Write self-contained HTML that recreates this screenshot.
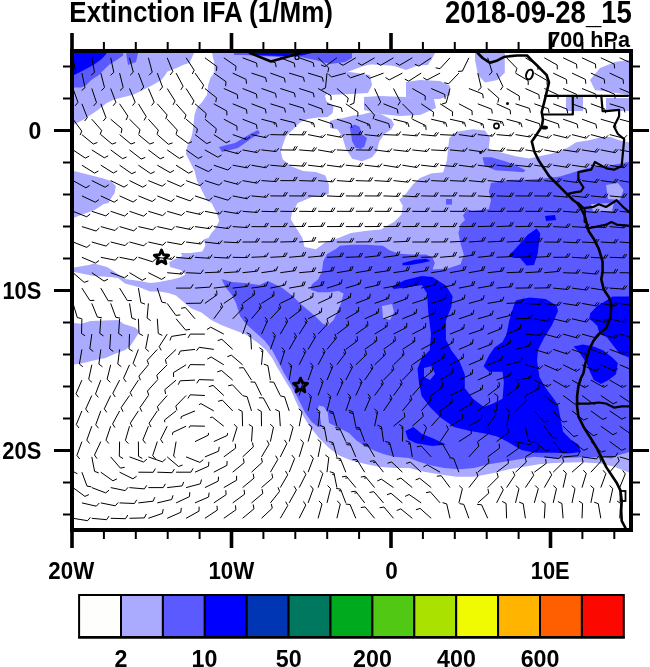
<!DOCTYPE html>
<html><head><meta charset="utf-8"><style>
html,body{margin:0;padding:0;background:#fff;}
svg{display:block;}
.b{font-family:"Liberation Sans",Arial,sans-serif;font-weight:bold;}
.r{font-family:"Liberation Sans",Arial,sans-serif;font-weight:bold;}
</style></head><body>
<svg width="650" height="667" viewBox="0 0 650 667">
<rect width="650" height="667" fill="#fff"/>
<defs><clipPath id="mc"><rect x="74" y="53" width="555" height="475"/></clipPath></defs>
<g clip-path="url(#mc)">
<rect x="74" y="53" width="555" height="475" fill="#aaaaff"/>
<polygon points="194.0,53.0 212.0,53.0 214.3,62.8 214.3,72.7 210.6,77.6 208.2,85.0 207.0,94.8 202.0,102.2 197.0,107.2 194.6,114.5 193.4,124.4 192.2,134.2 189.7,141.6 187.2,146.5 186.0,154.0 189.7,161.3 194.6,171.0 197.0,181.0 202.0,190.8 207.0,200.7 211.6,203.0 216.7,213.2 219.2,220.8 215.4,228.5 211.5,233.0 208.5,237.7 203.8,239.2 205.4,245.4 202.3,251.5 190.0,253.0 180.8,253.0 182.3,256.0 174.6,259.2 169.2,262.3 170.0,267.0 180.8,270.0 185.4,274.6 179.2,277.7 173.0,279.2 165.4,280.8 157.7,282.3 150.0,283.0 140.0,281.0 125.0,279.0 115.0,272.0 107.0,267.0 94.0,263.5 89.0,265.0 74.0,267.5 74.0,217.7 82.3,214.6 94.6,210.0 103.8,204.0 108.5,203.0 111.0,198.2 114.6,193.3 115.8,186.0 111.0,181.0 103.5,178.5 93.7,176.0 83.8,173.6 74.0,171.0 74.0,124.4 76.5,123.2 83.8,119.5 91.2,114.5 98.6,109.6 106.0,103.5 113.4,99.8 123.2,97.3 133.0,94.8 143.0,90.0 152.8,85.0 161.4,80.0 165.0,75.2 167.5,71.5 177.4,67.8 182.3,65.3 189.7,62.8" fill="#ffffff"/>
<polygon points="74.0,272.0 94.0,276.0 110.0,277.0 118.0,278.0 125.0,283.5 140.0,287.5 150.0,291.5 159.2,291.5 168.5,293.0 176.0,295.4 183.8,302.3 191.5,308.5 201.4,312.6 211.6,320.2 221.8,325.3 234.0,330.0 246.0,334.6 257.0,342.3 266.0,350.0 272.0,357.7 277.0,367.0 281.5,374.6 286.0,382.3 291.0,390.0 295.4,400.5 301.5,413.0 309.0,425.5 319.0,438.0 329.0,448.0 339.0,455.5 351.5,460.5 366.5,464.3 379.0,466.8 394.0,468.0 409.0,468.0 424.0,471.8 439.0,474.3 456.5,476.8 474.0,476.8 494.0,473.0 509.0,469.3 524.0,466.8 539.0,464.3 554.0,463.0 580.9,462.3 601.3,463.6 615.0,467.0 629.0,472.5 629.0,528.0 74.0,528.0 74.0,364.5 81.4,363.5 92.5,360.8 105.4,358.0 114.6,354.0 125.7,349.7 131.0,345.0 136.8,336.0 139.5,331.0 135.0,327.5 123.8,324.0 118.3,320.0 90.6,321.0 81.4,323.8 74.0,323.0" fill="#ffffff"/>
<polygon points="325.0,96.0 330.0,90.0 339.8,87.5 344.8,80.0 342.3,74.0 352.0,70.2 362.0,66.5 371.8,64.0 381.7,62.0 394.0,66.0 406.0,70.0 418.6,65.3 431.0,60.4 435.0,53.0 475.0,53.0 475.0,60.0 478.0,75.0 485.1,82.5 497.4,80.0 504.8,72.7 504.8,53.0 629.0,53.0 629.0,142.3 619.2,140.2 610.6,136.9 602.0,136.9 589.0,140.2 576.2,142.3 567.5,147.7 554.6,153.0 539.5,156.3 528.8,158.5 515.8,156.3 502.9,153.0 490.0,149.8 488.8,147.6 490.0,137.8 485.0,130.4 472.8,129.2 458.0,131.6 449.4,137.8 448.2,147.6 447.0,160.0 443.2,172.2 431.0,173.5 420.0,178.0 413.0,184.6 403.8,196.2 399.2,199.6 402.7,205.4 401.5,214.6 394.6,221.5 380.8,229.6 367.0,230.8 350.8,233.0 339.2,237.7 325.4,242.3 316.0,249.2 304.6,247.0 302.3,237.7 296.5,228.5 290.8,219.2 292.0,212.3 297.7,203.0 311.5,197.3 323.0,196.2 328.8,193.8 328.8,184.6 325.4,175.4 316.0,172.0 303.0,171.0 290.6,166.0 282.7,159.2 280.8,151.5 283.2,144.0 285.7,136.7 293.0,129.3 300.5,122.0 307.8,119.0 317.7,117.5 327.5,117.0 332.5,113.3 333.7,106.0 326.3,101.0" fill="#ffffff"/>
<polygon points="330.0,121.0 336.0,119.0 342.3,118.2 352.2,115.8 362.0,114.5 371.8,112.0 381.7,114.5 391.5,119.5 394.0,124.4 391.5,129.3 384.2,134.2 379.2,141.6 376.8,151.5 371.8,157.6 362.0,161.3 352.2,158.8 346.0,149.0 342.3,136.7 337.4,129.3 330.0,128.0" fill="#aaaaff"/>
<polygon points="352.0,53.0 430.0,53.0 432.0,58.0 428.0,65.0 400.0,66.0 380.0,65.0 365.0,64.0 352.0,62.0" fill="#aaaaff"/>
<polygon points="328.0,73.0 350.0,72.0 370.0,75.0 372.0,85.0 368.0,93.0 350.0,94.0 328.0,95.0" fill="#aaaaff"/>
<polygon points="406.0,82.0 420.0,80.0 440.0,81.0 450.0,86.0 450.0,95.0 440.0,99.0 420.0,99.0 406.0,97.0" fill="#aaaaff"/>
<polygon points="364.0,97.0 380.0,96.0 406.0,97.0 434.0,99.0 436.0,108.0 420.0,115.0 400.0,116.0 380.0,114.0 364.0,110.0" fill="#aaaaff"/>
<polygon points="590.0,80.0 600.0,68.0 615.0,62.0 629.0,60.0 629.0,95.0 610.0,92.0 595.0,90.0" fill="#aaaaff"/>
<polygon points="566.0,97.0 583.0,97.0 583.0,111.0 566.0,111.0" fill="#aaaaff"/>
<polygon points="606.0,98.0 629.0,98.0 629.0,111.0 606.0,111.0" fill="#aaaaff"/>
<polygon points="74.0,53.0 123.2,53.0 123.2,55.5 115.8,60.4 108.5,65.3 103.5,70.2 98.6,75.2 91.2,80.0 86.3,85.0 81.4,87.5 74.0,87.5" fill="#5a5aff"/>
<polygon points="126.0,53.0 138.0,53.0 136.0,62.0 128.0,65.0" fill="#5a5aff"/>
<polygon points="234.0,53.0 352.0,53.0 352.0,58.0 345.0,62.0 330.0,64.0 315.0,60.0 300.0,57.0 280.0,57.0 260.0,56.0 245.0,55.0 234.0,55.0" fill="#5a5aff"/>
<polygon points="482.5,157.2 491.0,157.2 506.0,161.5 517.0,165.8 525.5,170.2 523.4,172.3 510.5,171.2 495.4,170.2 484.6,165.8" fill="#5a5aff"/>
<polygon points="446.0,199.0 452.0,199.0 452.0,204.6 446.0,204.6" fill="#5a5aff"/>
<polygon points="219.0,147.0 235.0,143.0 250.0,134.0 258.0,130.0 260.0,133.0 252.0,138.0 238.0,148.0 222.0,152.0" fill="#5a5aff"/>
<polygon points="349.7,126.8 354.6,124.4 359.5,126.8 362.0,134.2 367.0,138.0 364.5,146.5 360.8,149.0 355.8,147.8 352.2,141.6 351.0,134.2" fill="#5a5aff"/>
<polygon points="221.5,279.0 232.0,282.0 247.0,283.3 259.5,285.0 268.0,281.0 272.2,283.0 282.4,288.0 292.6,296.0 300.2,303.6 307.9,310.0 315.5,316.4 323.2,324.0 328.3,325.3 333.4,320.2 337.2,312.6 341.0,303.6 343.6,293.4 338.5,290.9 328.3,292.2 318.0,292.2 310.4,289.6 311.7,284.5 318.0,279.4 321.9,271.8 323.2,261.6 327.0,254.0 335.9,248.9 340.0,245.8 352.9,244.8 365.8,244.8 383.0,245.8 389.5,250.2 398.2,253.4 411.0,254.5 426.2,254.5 432.6,257.7 434.8,263.0 432.6,269.5 447.7,268.5 460.6,264.2 463.8,254.5 460.6,243.7 458.5,233.0 460.6,224.3 465.0,220.0 463.0,215.4 467.4,209.0 471.7,211.0 488.9,209.0 491.0,200.3 488.9,191.7 491.0,183.0 510.5,179.8 527.7,179.8 540.6,178.8 560.0,176.6 576.2,171.4 587.0,168.2 597.7,166.0 608.5,166.0 619.2,163.8 629.0,161.7 629.0,454.7 620.4,454.7 616.6,456.0 611.5,458.5 601.3,457.2 580.9,457.2 555.5,458.5 534.0,456.8 519.0,459.3 504.0,461.8 489.0,464.3 474.0,468.0 459.0,469.3 444.0,468.0 431.5,465.5 419.0,461.8 409.0,458.0 394.0,456.8 384.0,454.3 374.0,450.5 364.0,445.5 356.5,440.5 349.0,433.0 339.0,428.0 329.0,423.0 327.8,413.0 324.0,406.8 319.0,405.5 317.8,409.3 320.3,418.0 321.5,426.8 317.8,426.8 311.5,421.8 305.3,413.0 299.0,400.5 291.5,385.5 284.0,373.0 279.0,363.0 272.0,350.0 264.0,340.0 255.0,332.0 246.0,324.0 240.0,316.0 236.0,303.0 231.5,294.6 225.4,287.0" fill="#5a5aff"/>
<polygon points="606.0,185.0 618.0,183.0 623.5,190.0 620.0,200.0 608.0,199.0" fill="#aaaaff"/>
<polygon points="382.0,306.0 392.0,304.0 394.0,312.0 390.0,320.0 383.0,318.0" fill="#aaaaff"/>
<polygon points="591.0,204.0 614.0,203.0 612.0,211.0 593.0,211.0" fill="#aaaaff"/>
<polygon points="616.0,456.0 629.0,452.0 629.0,472.0 618.0,468.0" fill="#aaaaff"/>
<polygon points="74.0,53.0 107.0,53.0 101.7,59.0 93.4,65.0 85.0,69.6 76.8,73.8 74.0,75.0" fill="#0000ff"/>
<polygon points="250.0,53.0 312.0,53.0 302.0,55.5 285.0,56.0 265.0,55.5 255.0,55.0" fill="#0000ff"/>
<polygon points="508.6,256.0 518.8,245.0 527.8,234.8 536.7,228.5 540.2,233.6 537.6,254.0 534.0,265.0 526.5,265.4 520.0,258.0 513.7,258.0" fill="#0000ff"/>
<polygon points="402.5,263.0 415.4,259.8 426.2,258.8 430.5,261.0 421.8,263.0 409.0,265.2 402.5,265.2" fill="#0000ff"/>
<polygon points="391.7,286.8 404.6,280.3 421.8,276.0 432.4,277.0 445.9,285.4 452.6,296.2 451.3,307.0 445.9,320.5 445.9,339.4 451.3,350.2 459.4,361.0 464.8,374.4 464.8,388.0 472.9,398.7 483.6,406.8 492.0,404.0 502.5,398.7 503.9,382.5 502.5,371.7 489.0,371.7 483.6,366.3 489.0,355.6 494.4,347.5 502.5,342.0 506.6,334.0 509.3,320.5 513.3,307.0 516.0,300.2 529.5,297.5 545.7,298.9 556.5,305.6 558.0,311.0 552.0,325.0 544.0,338.0 538.0,350.0 537.0,361.0 539.5,377.0 545.7,388.0 553.8,398.7 558.0,405.0 560.6,419.0 563.1,431.8 570.7,439.4 578.4,444.5 580.9,452.1 568.2,453.4 555.5,452.7 535.0,452.7 521.4,450.0 508.0,442.0 497.1,436.5 486.3,433.8 470.2,431.1 454.0,427.0 440.5,417.6 429.7,406.8 421.6,396.0 418.9,382.5 417.5,369.0 421.6,358.3 429.7,350.2 431.0,334.0 428.3,312.4 427.0,293.5 421.8,285.0 409.0,287.0 393.8,289.0" fill="#0000ff"/>
<polygon points="590.2,313.2 597.5,305.8 606.8,300.3 612.3,296.6 629.0,296.6 629.0,357.5 619.7,353.8 606.8,337.2 599.4,333.5 597.5,326.2 593.8,322.5 589.2,318.8" fill="#0000ff"/>
<polygon points="573.5,346.5 582.8,344.6 593.8,346.5 603.0,350.2 612.3,357.5 617.8,363.0 616.0,374.2 608.6,380.0 601.0,384.0 593.8,380.0 590.2,372.3 586.5,363.0 579.0,352.0" fill="#0000ff"/>
<polygon points="545.0,216.0 555.0,215.0 556.0,220.0 546.0,221.0" fill="#0000ff"/>
<polygon points="405.4,431.1 413.5,427.0 421.6,433.8 435.0,439.2 445.9,444.6 432.4,446.0 416.2,443.2 408.1,439.2" fill="#0000ff"/>
<polygon points="424.0,368.0 432.0,366.0 435.0,374.0 430.0,380.0 424.0,377.0" fill="#5a5aff"/>
<path d="M73.0,57.8L75.7,72.3M75.7,72.3l-3.3,2.9M91.8,57.8L94.5,72.4M94.5,72.4l-3.4,2.8M110.7,57.8L113.8,72.3M113.8,72.3l-3.3,3.0M129.5,57.8L133.3,72.1M133.3,72.1l-3.1,3.1M148.4,57.8L152.2,72.1M152.2,72.1l-3.1,3.1M167.2,57.8L172.8,71.5M172.8,71.5l-2.7,3.5M186.1,57.8L194.2,70.2M194.2,70.2l-2.0,3.9M204.9,57.8L216.9,66.5M216.9,66.5l-0.5,4.4M223.8,57.8L236.0,66.2M236.0,66.2l-0.4,4.4M242.6,57.8L256.5,63.0M256.5,63.0l0.7,4.3M261.5,57.8L275.4,62.8M275.4,62.8l0.8,4.3M280.3,57.8L294.2,63.1M294.2,63.1l0.7,4.3M299.2,57.8L313.2,62.7M313.2,62.7l0.8,4.3M318.1,57.8L328.8,68.0M328.8,68.0l-1.0,4.3M336.9,57.8L325.0,66.6M325.0,66.6l-4.0,-1.7M355.8,57.8L343.0,65.3M343.0,65.3l-3.8,-2.2M374.6,57.8L361.8,65.2M361.8,65.2l-3.8,-2.2M393.5,57.8L380.7,65.3M380.7,65.3l-3.8,-2.2M412.3,57.8L399.6,65.3M399.6,65.3l-3.8,-2.2M431.2,57.8L418.9,66.1M418.9,66.1l-4.0,-1.9M450.0,57.8L440.0,68.7M440.0,68.7l-4.3,-0.9M468.9,57.8L462.4,71.1M462.4,71.1l-4.4,0.3M487.7,57.8L492.1,71.9M492.1,71.9l-3.0,3.2M506.6,57.8L516.9,68.3M516.9,68.3l-1.2,4.2M525.4,57.8L538.0,65.5M538.0,65.5l-0.1,4.4M544.3,57.8L557.2,65.0M557.2,65.0l0.1,4.4M563.1,57.8L576.5,64.1M576.5,64.1l0.4,4.4M582.0,57.8L595.4,64.0M595.4,64.0l0.4,4.4M600.8,57.8L614.2,64.0M614.2,64.0l0.4,4.4M619.7,57.8L633.1,64.0M633.1,64.0l0.4,4.4M81.9,73.1L85.0,87.6M85.0,87.6l-3.3,2.9M100.8,73.1L104.5,87.5M104.5,87.5l-3.1,3.1M119.6,73.1L123.2,87.5M123.2,87.5l-3.2,3.1M138.4,73.1L143.7,87.0M143.7,87.0l-2.8,3.4M157.3,73.1L162.5,87.0M162.5,87.0l-2.8,3.4M176.1,73.1L183.1,86.2M183.1,86.2l-2.3,3.7M195.0,73.1L203.6,85.2M203.6,85.2l-1.8,4.0M213.8,73.1L226.0,81.7M226.0,81.7l-0.4,4.4M232.7,73.1L246.1,79.4M246.1,79.4l0.4,4.4M251.5,73.1L265.6,77.7M265.6,77.7l0.9,4.3M270.4,73.1L284.4,78.1M284.4,78.1l0.8,4.3M289.2,73.1L303.4,77.4M303.4,77.4l1.0,4.3M308.1,73.1L322.3,77.4M322.3,77.4l1.0,4.3M327.0,73.1L325.5,87.9M325.5,87.9l-4.0,1.8M345.8,73.1L331.5,77.0M331.5,77.0l-3.1,-3.1M364.7,73.1L350.6,77.8M350.6,77.8l-3.3,-2.9M383.5,73.1L369.6,78.3M369.6,78.3l-3.4,-2.8M402.4,73.1L389.2,79.9M389.2,79.9l-3.7,-2.4M421.2,73.1L408.7,81.1M408.7,81.1l-3.9,-2.0M440.1,73.1L427.0,80.0M427.0,80.0l-3.7,-2.3M458.9,73.1L448.6,83.8M448.6,83.8l-4.3,-1.1M477.8,73.1L481.2,87.5M481.2,87.5l-3.2,3.0M496.6,73.1L502.9,86.5M502.9,86.5l-2.5,3.6M515.5,73.1L528.2,80.6M528.2,80.6l-0.0,4.4M534.3,73.1L547.1,80.5M547.1,80.5l0.0,4.4M553.2,73.1L566.5,79.5M566.5,79.5l0.3,4.4M572.0,73.1L585.4,79.4M585.4,79.4l0.4,4.4M590.9,73.1L604.3,79.2M604.3,79.2l0.4,4.4M609.7,73.1L623.1,79.4M623.1,79.4l0.4,4.4M73.0,88.5L78.0,102.4M78.0,102.4l-2.9,3.4M91.8,88.5L96.5,102.6M96.5,102.6l-2.9,3.3M110.7,88.5L115.9,102.4M115.9,102.4l-2.8,3.4M129.5,88.5L135.2,102.2M135.2,102.2l-2.7,3.5M148.4,88.5L154.2,102.1M154.2,102.1l-2.6,3.5M167.2,88.5L175.1,101.0M175.1,101.0l-2.1,3.9M186.1,88.5L194.0,101.0M194.0,101.0l-2.0,3.9M204.9,88.5L216.5,97.8M216.5,97.8l-0.7,4.3M223.8,88.5L237.3,94.5M237.3,94.5l0.5,4.4M242.6,88.5L256.4,94.0M256.4,94.0l0.6,4.4M261.5,88.5L275.5,93.4M275.5,93.4l0.8,4.3M280.3,88.5L294.4,93.0M294.4,93.0l0.9,4.3M299.2,88.5L313.3,93.0M313.3,93.0l0.9,4.3M318.1,88.5L331.0,95.7M331.0,95.7l0.1,4.4M336.9,88.5L348.2,98.1M348.2,98.1l-0.8,4.3M355.8,88.5L353.9,103.2M353.9,103.2l-4.1,1.7M374.6,88.5L380.7,102.0M380.7,102.0l-2.6,3.6M393.5,88.5L400.3,101.6M400.3,101.6l-2.4,3.7M412.3,88.5L425.2,95.8M425.2,95.8l0.0,4.4M431.2,88.5L444.7,94.4M444.7,94.4l0.5,4.4M450.0,88.5L446.2,102.8M446.2,102.8l-4.2,1.2M468.9,88.5L482.6,93.9M482.6,93.9l0.7,4.3M487.7,88.5L498.8,98.3M498.8,98.3l-0.9,4.3M506.6,88.5L519.3,96.0M519.3,96.0l-0.0,4.4M525.4,88.5L538.9,94.6M538.9,94.6l0.4,4.4M544.3,88.5L557.7,94.7M557.7,94.7l0.4,4.4M563.1,88.5L576.7,94.4M576.7,94.4l0.5,4.4M582.0,88.5L595.7,94.1M595.7,94.1l0.6,4.4M600.8,88.5L614.5,94.1M614.5,94.1l0.6,4.4M619.7,88.5L633.3,94.3M633.3,94.3l0.5,4.4M81.9,103.8L87.3,117.6M87.3,117.6l-2.7,3.4M100.8,103.8L106.0,117.7M106.0,117.7l-2.8,3.4M119.6,103.8L127.9,116.1M127.9,116.1l-1.9,4.0M138.4,103.8L146.2,116.5M146.2,116.5l-2.1,3.9M157.3,103.8L167.1,114.9M167.1,114.9l-1.4,4.2M176.1,103.8L186.0,114.9M186.0,114.9l-1.4,4.2M195.0,103.8L206.2,113.5M206.2,113.5l-0.8,4.3M213.8,103.8L226.8,111.0M226.8,111.0l0.1,4.4M232.7,103.8L246.4,109.4M246.4,109.4l0.6,4.4M251.5,103.8L265.4,109.1M265.4,109.1l0.7,4.3M270.4,103.8L284.5,108.2M284.5,108.2l1.0,4.3M289.2,103.8L303.4,108.2M303.4,108.2l1.0,4.3M308.1,103.8L322.0,109.0M322.0,109.0l0.7,4.3M327.0,103.8L341.2,107.7M341.2,107.7l1.1,4.3M345.8,103.8L358.0,112.2M358.0,112.2l-0.3,4.4M364.7,103.8L374.4,115.0M374.4,115.0l-1.4,4.2M383.5,103.8L397.3,109.2M397.3,109.2l0.7,4.3M402.4,103.8L412.9,114.3M412.9,114.3l-1.1,4.3M421.2,103.8L433.5,112.1M433.5,112.1l-0.3,4.4M440.1,103.8L452.6,111.7M452.6,111.7l-0.2,4.4M458.9,103.8L472.0,110.7M472.0,110.7l0.2,4.4M477.8,103.8L491.6,109.2M491.6,109.2l0.7,4.3M496.6,103.8L510.1,109.9M510.1,109.9l0.5,4.4M515.5,103.8L529.5,108.4M529.5,108.4l0.9,4.3M534.3,103.8L548.3,108.7M548.3,108.7l0.8,4.3M553.2,103.8L567.0,109.1M567.0,109.1l0.7,4.3M572.0,103.8L585.9,108.9M585.9,108.9l0.8,4.3M590.9,103.8L604.8,108.9M604.8,108.9l0.8,4.3M609.7,103.8L623.9,108.1M623.9,108.1l1.0,4.3M73.0,119.2L81.8,131.1M81.8,131.1l-1.7,4.0M91.8,119.2L101.6,130.4M101.6,130.4l-1.4,4.2M110.7,119.2L122.0,128.8M122.0,128.8l-0.8,4.3M129.5,119.2L140.0,129.6M140.0,129.6l-1.1,4.3M148.4,119.2L158.3,130.2M158.3,130.2l-1.3,4.2M167.2,119.2L177.3,130.1M177.3,130.1l-1.3,4.2M186.1,119.2L197.4,128.8M197.4,128.8l-0.8,4.3M204.9,119.2L216.3,128.7M216.3,128.7l-0.8,4.3M223.8,119.2L236.9,126.1M236.9,126.1l0.2,4.4M242.6,119.2L256.4,124.6M256.4,124.6l0.7,4.4M261.5,119.2L275.8,122.9M275.8,122.9l1.2,4.2M273.9,122.4l0.6,2.2M280.3,119.2L294.7,122.8M294.7,122.8l1.2,4.2M299.2,119.2L313.5,123.0M313.5,123.0l1.1,4.2M311.6,122.5l0.6,2.2M318.1,119.2L332.1,123.8M332.1,123.8l0.9,4.3M336.9,119.2L351.0,123.7M351.0,123.7l0.9,4.3M355.8,119.2L369.6,124.5M369.6,124.5l0.7,4.3M367.7,123.8l0.4,2.3M374.6,119.2L388.7,123.6M388.7,123.6l1.0,4.3M393.5,119.2L407.8,122.8M407.8,122.8l1.2,4.2M405.9,122.3l0.6,2.2M412.3,119.2L425.7,125.5M425.7,125.5l0.4,4.4M423.9,124.6l0.2,2.3M431.2,119.2L445.6,122.5M445.6,122.5l1.3,4.2M443.6,122.1l0.7,2.2M450.0,119.2L464.4,122.4M464.4,122.4l1.3,4.2M462.5,122.0l0.7,2.2M468.9,119.2L482.9,124.0M482.9,124.0l0.9,4.3M481.0,123.3l0.4,2.3M487.7,119.2L502.3,121.8M502.3,121.8l1.5,4.1M500.3,121.5l0.8,2.2M506.6,119.2L520.9,123.0M520.9,123.0l1.2,4.2M518.9,122.5l0.6,2.2M525.4,119.2L539.5,123.7M539.5,123.7l0.9,4.3M544.3,119.2L558.3,123.9M558.3,123.9l0.9,4.3M563.1,119.2L577.1,124.0M577.1,124.0l0.8,4.3M582.0,119.2L595.9,124.2M595.9,124.2l0.8,4.3M600.8,119.2L615.0,123.3M615.0,123.3l1.1,4.3M619.7,119.2L633.9,123.0M633.9,123.0l1.1,4.3M81.9,134.6L93.3,144.0M93.3,144.0l4.1,-1.5M100.8,134.6L112.1,144.1M112.1,144.1l4.1,-1.5M119.6,134.6L131.0,144.0M131.0,144.0l4.1,-1.5M138.4,134.6L149.8,144.0M149.8,144.0l4.1,-1.5M157.3,134.6L168.4,144.3M168.4,144.3l4.2,-1.4M176.1,134.6L188.0,143.4M188.0,143.4l4.0,-1.7M195.0,134.6L206.7,143.6M206.7,143.6l4.1,-1.7M213.8,134.6L226.2,142.8M226.2,142.8l3.9,-2.0M232.7,134.6L246.6,139.5M246.6,139.5l3.4,-2.8M244.7,138.9l1.8,-1.5M251.5,134.6L266.0,137.7M266.0,137.7l3.0,-3.2M264.1,137.3l1.6,-1.7M270.4,134.6L285.2,134.9M285.2,134.9l2.3,-3.8M283.2,134.9l2.3,-3.8M289.2,134.6L304.0,134.9M304.0,134.9l2.3,-3.8M302.0,134.8l2.3,-3.8M308.1,134.6L322.6,137.5M322.6,137.5l2.9,-3.3M320.6,137.1l1.5,-1.7M327.0,134.6L341.5,137.4M341.5,137.4l2.9,-3.3M339.5,137.0l1.5,-1.7M345.8,134.6L360.6,134.7M360.6,134.7l2.2,-3.8M358.6,134.7l2.2,-3.8M364.7,134.6L379.4,136.2M379.4,136.2l2.6,-3.5M377.4,135.9l1.4,-1.9M383.5,134.6L398.3,135.2M398.3,135.2l2.4,-3.7M396.3,135.2l1.2,-1.9M402.4,134.6L417.1,135.9M417.1,135.9l2.5,-3.6M415.1,135.7l1.3,-1.9M421.2,134.6L435.9,136.0M435.9,136.0l2.6,-3.6M433.9,135.8l2.6,-3.6M440.1,134.6L454.8,135.3M454.8,135.3l2.4,-3.7M452.8,135.2l1.3,-1.9M458.9,134.6L473.5,136.7M473.5,136.7l2.7,-3.5M471.6,136.4l1.4,-1.8M477.8,134.6L492.5,136.2M492.5,136.2l2.6,-3.5M490.5,136.0l1.4,-1.9M496.6,134.6L511.3,135.9M511.3,135.9l2.5,-3.6M509.3,135.7l1.3,-1.9M515.5,134.6L530.0,137.0M530.0,137.0l2.8,-3.4M528.1,136.7l1.5,-1.8M534.3,134.6L548.6,138.2M548.6,138.2l3.1,-3.2M546.7,137.7l1.6,-1.6M553.2,134.6L567.5,138.1M567.5,138.1l3.1,-3.2M565.6,137.6l1.6,-1.7M572.0,134.6L586.3,138.2M586.3,138.2l3.1,-3.2M584.4,137.7l1.6,-1.6M590.9,134.6L605.1,138.4M605.1,138.4l3.1,-3.1M603.2,137.9l1.6,-1.6M609.7,134.6L624.0,138.3M624.0,138.3l3.1,-3.1M73.0,149.9L85.3,158.1M85.3,158.1l3.9,-2.0M91.8,149.9L104.3,157.8M104.3,157.8l3.9,-2.0M110.7,149.9L122.6,158.7M122.6,158.7l4.0,-1.7M129.5,149.9L141.2,159.0M141.2,159.0l4.1,-1.6M148.4,149.9L160.2,158.8M160.2,158.8l4.0,-1.7M167.2,149.9L179.4,158.4M179.4,158.4l4.0,-1.9M186.1,149.9L198.2,158.4M198.2,158.4l4.0,-1.9M204.9,149.9L217.8,157.2M217.8,157.2l3.8,-2.2M223.8,149.9L238.1,153.8M238.1,153.8l3.1,-3.1M236.1,153.3l1.6,-1.6M242.6,149.9L257.2,152.6M257.2,152.6l2.9,-3.4M255.2,152.2l1.5,-1.8M261.5,149.9L276.2,151.6M276.2,151.6l2.6,-3.5M274.2,151.3l1.4,-1.8M280.3,149.9L295.1,150.1M295.1,150.1l2.2,-3.8M293.1,150.0l2.2,-3.8M299.2,149.9L314.0,151.1M314.0,151.1l2.5,-3.6M312.0,150.9l2.5,-3.6M318.1,149.9L332.6,152.4M332.6,152.4l2.8,-3.4M330.7,152.1l1.5,-1.8M336.9,149.9L351.7,150.7M351.7,150.7l2.4,-3.7M349.7,150.6l2.4,-3.7M355.8,149.9L370.5,150.2M370.5,150.2l2.3,-3.8M368.5,150.2l2.3,-3.8M374.6,149.9L389.3,151.8M389.3,151.8l2.7,-3.5M387.3,151.6l1.4,-1.8M393.5,149.9L408.2,151.5M408.2,151.5l2.6,-3.6M406.2,151.2l1.4,-1.9M412.3,149.9L427.0,151.5M427.0,151.5l2.6,-3.5M425.0,151.3l1.4,-1.9M431.2,149.9L445.9,150.7M445.9,150.7l2.4,-3.7M443.9,150.6l2.4,-3.7M450.0,149.9L464.7,151.3M464.7,151.3l2.6,-3.6M462.7,151.1l1.3,-1.9M468.9,149.9L483.5,152.0M483.5,152.0l2.7,-3.5M481.5,151.7l1.4,-1.8M487.7,149.9L502.4,151.3M502.4,151.3l2.6,-3.6M500.4,151.1l2.6,-3.6M506.6,149.9L521.3,151.2M521.3,151.2l2.5,-3.6M519.3,151.0l2.5,-3.6M525.4,149.9L540.0,152.1M540.0,152.1l2.7,-3.4M538.1,151.8l1.4,-1.8M544.3,149.9L558.8,152.6M558.8,152.6l2.8,-3.4M556.8,152.2l1.5,-1.8M563.1,149.9L577.7,152.1M577.7,152.1l2.7,-3.4M575.8,151.8l2.7,-3.4M582.0,149.9L596.6,152.2M596.6,152.2l2.8,-3.4M594.6,151.9l2.8,-3.4M600.8,149.9L615.3,152.7M615.3,152.7l2.9,-3.3M613.4,152.3l2.9,-3.3M619.7,149.9L634.2,152.6M634.2,152.6l2.9,-3.3M632.2,152.3l2.9,-3.3M81.9,165.2L94.5,173.1M94.5,173.1l3.9,-2.1M100.8,165.2L113.3,173.0M113.3,173.0l3.9,-2.1M119.6,165.2L131.8,173.7M131.8,173.7l4.0,-1.9M138.4,165.2L150.7,173.6M150.7,173.6l4.0,-1.9M157.3,165.2L170.1,172.6M170.1,172.6l3.8,-2.2M176.1,165.2L188.7,173.2M188.7,173.2l3.9,-2.0M195.0,165.2L208.4,171.6M208.4,171.6l3.6,-2.5M213.8,165.2L227.9,170.0M227.9,170.0l3.3,-2.9M232.7,165.2L247.3,167.9M247.3,167.9l2.8,-3.4M245.3,167.5l1.5,-1.8M251.5,165.2L266.1,167.8M266.1,167.8l2.8,-3.4M264.2,167.5l1.5,-1.8M270.4,165.2L285.1,166.5M285.1,166.5l2.5,-3.6M283.2,166.3l2.5,-3.6M289.2,165.2L304.0,166.2M304.0,166.2l2.4,-3.7M302.0,166.0l2.4,-3.7M308.1,165.2L322.8,166.9M322.8,166.9l2.6,-3.5M320.8,166.7l1.4,-1.8M327.0,165.2L341.6,167.1M341.6,167.1l2.7,-3.5M339.6,166.9l1.4,-1.8M345.8,165.2L360.5,166.6M360.5,166.6l2.5,-3.6M358.5,166.4l2.5,-3.6M364.7,165.2L379.4,166.9M379.4,166.9l2.6,-3.5M377.4,166.7l1.4,-1.9M383.5,165.2L398.1,167.5M398.1,167.5l2.7,-3.4M396.2,167.2l1.4,-1.8M402.4,165.2L417.0,167.5M417.0,167.5l2.7,-3.4M415.0,167.2l1.4,-1.8M421.2,165.2L435.9,166.8M435.9,166.8l2.6,-3.6M433.9,166.6l2.6,-3.6M440.1,165.2L454.8,166.6M454.8,166.6l2.5,-3.6M452.8,166.5l2.5,-3.6M458.9,165.2L473.6,167.1M473.6,167.1l2.7,-3.5M471.6,166.9l1.4,-1.8M477.8,165.2L492.4,167.1M492.4,167.1l2.7,-3.5M490.5,166.8l1.4,-1.8M496.6,165.2L511.3,166.7M511.3,166.7l2.6,-3.6M509.3,166.5l2.6,-3.6M515.5,165.2L530.2,166.8M530.2,166.8l2.6,-3.6M528.2,166.6l2.6,-3.6M534.3,165.2L549.0,167.2M549.0,167.2l2.7,-3.5M547.0,166.9l2.7,-3.5M553.2,165.2L567.8,167.4M567.8,167.4l2.7,-3.5M565.8,167.1l2.7,-3.5M572.0,165.2L586.7,167.3M586.7,167.3l2.7,-3.5M584.7,167.0l2.7,-3.5M590.9,165.2L605.5,167.6M605.5,167.6l2.8,-3.4M603.5,167.3l2.8,-3.4M609.7,165.2L624.3,167.8M624.3,167.8l2.8,-3.4M622.3,167.5l2.8,-3.4M73.0,180.6L85.9,187.8M85.9,187.8l3.8,-2.3M91.8,180.6L105.1,187.2M105.1,187.2l3.7,-2.4M110.7,180.6L124.0,187.1M124.0,187.1l3.7,-2.5M129.5,180.6L142.8,187.2M142.8,187.2l3.7,-2.4M148.4,180.6L162.1,186.2M162.1,186.2l3.5,-2.7M167.2,180.6L180.8,186.5M180.8,186.5l3.5,-2.6M186.1,180.6L200.0,185.6M200.0,185.6l3.3,-2.9M204.9,180.6L219.0,185.2M219.0,185.2l3.3,-2.9M223.8,180.6L238.1,184.4M238.1,184.4l3.1,-3.1M236.2,183.9l1.6,-1.6M242.6,180.6L257.2,183.2M257.2,183.2l2.8,-3.4M255.2,182.9l1.5,-1.8M261.5,180.6L276.3,181.6M276.3,181.6l2.5,-3.7M274.3,181.5l2.5,-3.7M280.3,180.6L295.1,180.7M295.1,180.7l2.2,-3.8M293.1,180.7l2.2,-3.8M299.2,180.6L314.0,181.1M314.0,181.1l2.3,-3.7M312.0,181.1l2.3,-3.7M318.1,180.6L332.8,181.9M332.8,181.9l2.5,-3.6M330.8,181.7l1.3,-1.9M336.9,180.6L351.7,181.6M351.7,181.6l2.5,-3.6M349.7,181.5l2.5,-3.6M355.8,180.6L370.5,181.1M370.5,181.1l2.3,-3.7M368.5,181.0l2.3,-3.7M374.6,180.6L389.4,181.5M389.4,181.5l2.4,-3.7M387.4,181.3l2.4,-3.7M393.5,180.6L408.2,182.2M408.2,182.2l2.6,-3.5M406.2,182.0l1.4,-1.9M412.3,180.6L427.0,182.0M427.0,182.0l2.6,-3.6M425.0,181.8l1.3,-1.9M431.2,180.6L445.9,181.3M445.9,181.3l2.4,-3.7M443.9,181.2l2.4,-3.7M450.0,180.6L464.8,181.3M464.8,181.3l2.4,-3.7M462.8,181.2l2.4,-3.7M468.9,180.6L483.6,182.0M483.6,182.0l2.5,-3.6M481.6,181.8l2.5,-3.6M487.7,180.6L502.4,182.0M502.4,182.0l2.5,-3.6M500.4,181.8l2.5,-3.6M506.6,180.6L521.3,181.4M521.3,181.4l2.4,-3.7M519.3,181.3l2.4,-3.7M525.4,180.6L540.2,181.2M540.2,181.2l2.3,-3.7M538.2,181.1l2.3,-3.7M544.3,180.6L559.0,182.0M559.0,182.0l2.6,-3.6M557.0,181.8l2.6,-3.6M563.1,180.6L577.8,182.6M577.8,182.6l2.7,-3.5M575.8,182.3l2.7,-3.5M582.0,180.6L596.6,182.5M596.6,182.5l2.7,-3.5M594.6,182.3l2.7,-3.5M600.8,180.6L615.5,182.5M615.5,182.5l2.7,-3.5M613.5,182.3l2.7,-3.5M619.7,180.6L634.3,183.0M634.3,183.0l2.8,-3.4M632.3,182.7l2.8,-3.4M81.9,195.9L95.3,202.2M95.3,202.2l3.6,-2.5M100.8,195.9L114.2,202.2M114.2,202.2l3.6,-2.5M119.6,195.9L133.1,202.0M133.1,202.0l3.6,-2.6M138.4,195.9L152.2,201.5M152.2,201.5l3.5,-2.7M157.3,195.9L171.0,201.5M171.0,201.5l3.5,-2.7M176.1,195.9L190.1,200.9M190.1,200.9l3.3,-2.9M195.0,195.9L209.1,200.5M209.1,200.5l3.3,-3.0M213.8,195.9L228.0,200.2M228.0,200.2l3.2,-3.0M232.7,195.9L247.2,198.8M247.2,198.8l2.9,-3.3M245.3,198.5l1.5,-1.7M251.5,195.9L266.3,197.3M266.3,197.3l2.5,-3.6M264.3,197.1l1.3,-1.9M270.4,195.9L285.2,196.0M285.2,196.0l2.2,-3.8M283.2,196.0l2.2,-3.8M289.2,195.9L304.0,196.0M304.0,196.0l2.2,-3.8M302.0,196.0l2.2,-3.8M308.1,195.9L322.9,196.5M322.9,196.5l2.3,-3.7M320.9,196.4l2.3,-3.7M327.0,195.9L341.7,196.6M341.7,196.6l2.4,-3.7M339.7,196.5l2.4,-3.7M345.8,195.9L360.6,196.1M360.6,196.1l2.2,-3.8M358.6,196.1l2.2,-3.8M364.7,195.9L379.4,196.0M379.4,196.0l2.2,-3.8M377.4,196.0l2.2,-3.8M383.5,195.9L398.3,196.4M398.3,196.4l2.3,-3.7M396.3,196.4l2.3,-3.7M402.4,195.9L417.1,196.8M417.1,196.8l2.4,-3.7M415.1,196.7l2.4,-3.7M421.2,195.9L436.0,196.2M436.0,196.2l2.3,-3.8M434.0,196.2l2.3,-3.8M440.1,195.9L454.8,196.0M454.8,196.0l2.2,-3.8M452.8,196.0l2.2,-3.8M458.9,195.9L473.7,196.2M473.7,196.2l2.3,-3.8M471.7,196.2l2.3,-3.8M477.8,195.9L492.5,196.8M492.5,196.8l2.4,-3.7M490.5,196.7l2.4,-3.7M496.6,195.9L511.4,196.4M511.4,196.4l2.3,-3.7M509.4,196.3l2.3,-3.7M515.5,195.9L530.2,196.0M530.2,196.0l2.2,-3.8M528.2,196.0l2.2,-3.8M534.3,195.9L549.1,196.1M549.1,196.1l2.2,-3.8M547.1,196.1l2.2,-3.8M553.2,195.9L567.9,197.2M567.9,197.2l2.5,-3.6M565.9,197.0l2.5,-3.6M572.0,195.9L586.7,197.5M586.7,197.5l2.6,-3.6M584.7,197.3l2.6,-3.6M590.9,195.9L605.6,197.3M605.6,197.3l2.5,-3.6M603.6,197.1l2.5,-3.6M609.7,195.9L624.4,197.3M624.4,197.3l2.5,-3.6M622.4,197.1l2.5,-3.6M73.0,211.3L86.7,216.8M86.7,216.8l3.5,-2.7M91.8,211.3L105.9,215.9M105.9,215.9l3.3,-2.9M110.7,211.3L124.7,216.0M124.7,216.0l3.3,-2.9M129.5,211.3L143.6,216.1M143.6,216.1l3.3,-2.9M148.4,211.3L162.6,215.6M162.6,215.6l3.2,-3.0M167.2,211.3L181.5,215.4M181.5,215.4l3.2,-3.0M186.1,211.3L200.5,214.5M200.5,214.5l3.0,-3.2M198.6,214.1l1.6,-1.7M204.9,211.3L219.5,214.1M219.5,214.1l2.9,-3.3M217.5,213.7l1.5,-1.7M223.8,211.3L238.4,213.7M238.4,213.7l2.8,-3.4M236.4,213.4l1.5,-1.8M242.6,211.3L257.4,212.5M257.4,212.5l2.5,-3.6M255.4,212.4l1.3,-1.9M261.5,211.3L276.3,211.7M276.3,211.7l2.3,-3.7M274.3,211.7l2.3,-3.7M280.3,211.3L295.1,211.5M295.1,211.5l2.2,-3.8M293.1,211.4l2.2,-3.8M299.2,211.3L314.0,211.5M314.0,211.5l2.2,-3.8M312.0,211.5l2.2,-3.8M318.1,211.3L332.8,211.5M332.8,211.5l2.2,-3.8M330.8,211.5l2.2,-3.8M336.9,211.3L351.7,211.4M351.7,211.4l2.2,-3.8M349.7,211.4l2.2,-3.8M355.8,211.3L370.5,211.3M370.5,211.3l2.2,-3.8M368.5,211.3l2.2,-3.8M374.6,211.3L389.4,211.4M389.4,211.4l2.2,-3.8M387.4,211.4l2.2,-3.8M393.5,211.3L408.2,211.6M408.2,211.6l2.3,-3.8M406.2,211.5l2.3,-3.8M412.3,211.3L427.1,211.5M427.1,211.5l2.3,-3.8M425.1,211.5l2.3,-3.8M431.2,211.3L445.9,211.4M445.9,211.4l2.2,-3.8M443.9,211.3l2.2,-3.8M450.0,211.3L464.8,211.4M464.8,211.4l2.2,-3.8M462.8,211.4l2.2,-3.8M468.9,211.3L483.6,211.5M483.6,211.5l2.3,-3.8M481.6,211.5l2.3,-3.8M487.7,211.3L502.5,211.4M502.5,211.4l2.2,-3.8M500.5,211.4l2.2,-3.8M506.6,211.3L521.3,211.3M521.3,211.3l2.2,-3.8M519.3,211.3l2.2,-3.8M525.4,211.3L540.2,211.4M540.2,211.4l2.2,-3.8M538.2,211.3l2.2,-3.8M544.3,211.3L559.0,211.9M559.0,211.9l2.3,-3.7M557.0,211.8l2.3,-3.7M563.1,211.3L577.9,212.4M577.9,212.4l2.5,-3.6M575.9,212.3l2.5,-3.6M582.0,211.3L596.7,212.6M596.7,212.6l2.5,-3.6M594.7,212.4l2.5,-3.6M600.8,211.3L615.5,212.6M615.5,212.6l2.5,-3.6M613.6,212.4l2.5,-3.6M619.7,211.3L634.4,212.8M634.4,212.8l2.6,-3.6M632.4,212.6l2.6,-3.6M81.9,226.6L96.1,231.0M96.1,231.0l3.2,-3.0M100.8,226.6L115.0,230.5M115.0,230.5l3.1,-3.1M119.6,226.6L133.8,230.8M133.8,230.8l3.2,-3.0M138.4,226.6L152.9,229.9M152.9,229.9l3.0,-3.2M157.3,226.6L171.8,229.8M171.8,229.8l3.0,-3.3M176.1,226.6L190.7,229.5M190.7,229.5l2.9,-3.3M188.7,229.1l1.5,-1.7M195.0,226.6L209.7,228.7M209.7,228.7l2.7,-3.5M207.7,228.4l1.4,-1.8M213.8,226.6L228.5,228.6M228.5,228.6l2.7,-3.5M226.5,228.4l1.4,-1.8M232.7,226.6L247.5,227.6M247.5,227.6l2.4,-3.7M245.5,227.4l1.3,-1.9M251.5,226.6L266.3,226.7M266.3,226.7l2.2,-3.8M264.3,226.7l2.2,-3.8M270.4,226.6L285.2,226.6M285.2,226.6l2.2,-3.8M283.2,226.6l2.2,-3.8M289.2,226.6L304.0,226.4M304.0,226.4l2.1,-3.8M302.0,226.5l2.1,-3.8M308.1,226.6L322.9,226.3M322.9,226.3l2.1,-3.9M320.9,226.4l2.1,-3.9M327.0,226.6L341.7,226.5M341.7,226.5l2.2,-3.8M339.7,226.6l2.2,-3.8M345.8,226.6L360.6,226.6M360.6,226.6l2.2,-3.8M358.6,226.6l2.2,-3.8M364.7,226.6L379.4,226.5M379.4,226.5l2.2,-3.8M377.4,226.5l2.2,-3.8M383.5,226.6L398.3,226.4M398.3,226.4l2.1,-3.9M396.3,226.4l2.1,-3.9M402.4,226.6L417.1,226.5M417.1,226.5l2.2,-3.8M415.1,226.6l2.2,-3.8M421.2,226.6L436.0,226.6M436.0,226.6l2.2,-3.8M434.0,226.6l2.2,-3.8M440.1,226.6L454.8,226.6M454.8,226.6l2.2,-3.8M452.8,226.6l2.2,-3.8M458.9,226.6L473.7,226.4M473.7,226.4l2.1,-3.8M471.7,226.5l2.1,-3.8M477.8,226.6L492.5,226.2M492.5,226.2l2.1,-3.9M490.5,226.3l2.1,-3.9M496.6,226.6L511.4,226.0M511.4,226.0l2.0,-3.9M509.4,226.1l2.0,-3.9M515.5,226.6L530.2,226.3M530.2,226.3l2.1,-3.9M528.2,226.3l2.1,-3.9M534.3,226.6L549.1,226.9M549.1,226.9l2.3,-3.8M547.1,226.9l2.3,-3.8M553.2,226.6L567.9,227.4M567.9,227.4l2.4,-3.7M565.9,227.3l2.4,-3.7M572.0,226.6L586.8,227.5M586.8,227.5l2.4,-3.7M584.8,227.4l2.4,-3.7M590.9,226.6L605.6,227.6M605.6,227.6l2.4,-3.7M603.6,227.5l2.4,-3.7M609.7,226.6L624.4,227.9M624.4,227.9l2.5,-3.6M622.5,227.8l2.5,-3.6M73.0,242.0L86.8,247.4M86.8,247.4l3.4,-2.8M91.8,242.0L106.1,246.1M106.1,246.1l3.2,-3.0M110.7,242.0L125.1,245.6M125.1,245.6l3.1,-3.2M129.5,242.0L143.8,245.8M143.8,245.8l3.1,-3.1M148.4,242.0L162.9,245.2M162.9,245.2l3.0,-3.3M167.2,242.0L181.8,244.6M181.8,244.6l2.8,-3.4M186.1,242.0L200.8,244.0M200.8,244.0l2.7,-3.5M198.8,243.7l1.4,-1.8M204.9,242.0L219.6,243.8M219.6,243.8l2.6,-3.5M217.7,243.5l1.4,-1.8M223.8,242.0L238.6,242.7M238.6,242.7l2.4,-3.7M236.6,242.6l1.2,-1.9M242.6,242.0L257.4,242.0M257.4,242.0l2.2,-3.8M255.4,242.0l2.2,-3.8M261.5,242.0L276.3,242.0M276.3,242.0l2.2,-3.8M274.3,242.0l2.2,-3.8M280.3,242.0L295.1,241.6M295.1,241.6l2.1,-3.9M293.1,241.6l2.1,-3.9M299.2,242.0L314.0,241.0M314.0,241.0l1.9,-4.0M312.0,241.1l1.9,-4.0M318.1,242.0L332.8,241.5M332.8,241.5l2.1,-3.9M330.8,241.6l2.1,-3.9M336.9,242.0L351.7,242.0M351.7,242.0l2.2,-3.8M349.7,242.0l2.2,-3.8M355.8,242.0L370.5,241.8M370.5,241.8l2.1,-3.8M368.5,241.8l2.1,-3.8M374.6,242.0L389.4,241.0M389.4,241.0l1.9,-4.0M387.4,241.1l1.9,-4.0M393.5,242.0L408.2,241.3M408.2,241.3l2.0,-3.9M406.2,241.4l2.0,-3.9M412.3,242.0L427.1,242.0M427.1,242.0l2.2,-3.8M425.1,242.0l2.2,-3.8M431.2,242.0L445.9,241.9M445.9,241.9l2.2,-3.8M443.9,241.9l2.2,-3.8M450.0,242.0L464.8,241.2M464.8,241.2l2.0,-3.9M462.8,241.3l2.0,-3.9M468.9,242.0L483.6,241.0M483.6,241.0l1.9,-3.9M481.6,241.1l1.9,-3.9M487.7,242.0L502.5,241.2M502.5,241.2l2.0,-3.9M500.5,241.3l2.0,-3.9M506.6,242.0L521.3,241.2M521.3,241.2l2.0,-3.9M519.3,241.3l2.0,-3.9M525.4,242.0L540.2,241.7M540.2,241.7l2.1,-3.9M538.2,241.7l2.1,-3.9M544.3,242.0L559.0,242.2M559.0,242.2l2.3,-3.8M557.0,242.2l2.3,-3.8M563.1,242.0L577.9,242.8M577.9,242.8l2.4,-3.7M575.9,242.7l2.4,-3.7M582.0,242.0L596.7,242.8M596.7,242.8l2.4,-3.7M594.7,242.7l2.4,-3.7M600.8,242.0L615.6,242.9M615.6,242.9l2.4,-3.7M613.6,242.8l2.4,-3.7M619.7,242.0L634.4,243.1M634.4,243.1l2.5,-3.6M632.4,243.0l2.5,-3.6M81.9,257.3L95.5,263.1M95.5,263.1l3.5,-2.6M100.8,257.3L115.3,260.2M115.3,260.2l2.9,-3.3M119.6,257.3L134.1,260.2M134.1,260.2l2.9,-3.3M138.4,257.3L152.6,261.8M152.6,261.8l3.3,-3.0M157.3,257.3L172.0,259.4M172.0,259.4l2.7,-3.5M170.0,259.1l1.4,-1.8M176.1,257.3L190.9,258.7M190.9,258.7l2.5,-3.6M188.9,258.5l1.3,-1.9M195.0,257.3L209.8,258.3M209.8,258.3l2.4,-3.7M207.8,258.2l1.3,-1.9M213.8,257.3L228.6,258.1M228.6,258.1l2.4,-3.7M226.6,258.0l1.2,-1.9M232.7,257.3L247.5,257.6M247.5,257.6l2.3,-3.8M245.5,257.5l1.2,-2.0M251.5,257.3L266.3,256.6M266.3,256.6l2.0,-3.9M264.3,256.7l1.1,-2.0M270.4,257.3L285.2,256.5M285.2,256.5l2.0,-3.9M283.2,256.6l2.0,-3.9M289.2,257.3L304.0,255.9M304.0,255.9l1.8,-4.0M302.0,256.1l1.8,-4.0M308.1,257.3L322.8,255.9M322.8,255.9l1.8,-4.0M320.8,256.1l1.8,-4.0M327.0,257.3L341.7,256.5M341.7,256.5l2.0,-3.9M339.7,256.6l2.0,-3.9M345.8,257.3L360.6,256.8M360.6,256.8l2.1,-3.9M358.6,256.9l2.1,-3.9M364.7,257.3L379.4,255.7M379.4,255.7l1.8,-4.0M377.4,255.9l1.8,-4.0M383.5,257.3L398.2,255.4M398.2,255.4l1.7,-4.1M396.2,255.7l1.7,-4.1M402.4,257.3L417.1,256.2M417.1,256.2l1.9,-4.0M415.1,256.4l1.9,-4.0M421.2,257.3L436.0,256.9M436.0,256.9l2.1,-3.9M434.0,257.0l2.1,-3.9M440.1,257.3L454.8,256.0M454.8,256.0l1.8,-4.0M452.8,256.2l1.8,-4.0M458.9,257.3L473.5,255.1M473.5,255.1l1.6,-4.1M471.6,255.4l1.6,-4.1M477.8,257.3L492.5,255.8M492.5,255.8l1.8,-4.0M490.5,256.0l1.8,-4.0M496.6,257.3L511.4,256.6M511.4,256.6l2.0,-3.9M509.4,256.7l2.0,-3.9M515.5,257.3L530.2,256.8M530.2,256.8l2.0,-3.9M528.2,256.8l2.0,-3.9M534.3,257.3L549.1,256.6M549.1,256.6l2.0,-3.9M547.1,256.7l2.0,-3.9M553.2,257.3L567.9,257.2M567.9,257.2l2.2,-3.8M565.9,257.2l2.2,-3.8M572.0,257.3L586.8,258.2M586.8,258.2l2.4,-3.7M584.8,258.1l2.4,-3.7M590.9,257.3L605.6,258.2M605.6,258.2l2.4,-3.7M603.6,258.1l2.4,-3.7M609.7,257.3L624.5,257.8M624.5,257.8l2.3,-3.7M622.5,257.8l2.3,-3.7M73.0,272.7L84.2,282.4M84.2,282.4l4.2,-1.5M91.8,272.7L104.0,281.1M104.0,281.1l4.0,-1.9M110.7,272.7L124.6,277.8M124.6,277.8l3.4,-2.8M129.5,272.7L142.3,280.3M142.3,280.3l3.8,-2.1M148.4,272.7L161.6,279.4M161.6,279.4l3.7,-2.4M167.2,272.7L182.0,274.1M182.0,274.1l2.6,-3.6M180.0,273.9l1.3,-1.9M186.1,272.7L200.9,273.4M200.9,273.4l2.4,-3.7M204.9,272.7L219.7,272.1M219.7,272.1l2.0,-3.9M217.7,272.2l1.1,-2.0M223.8,272.7L238.6,271.8M238.6,271.8l2.0,-3.9M236.6,271.9l1.0,-2.1M242.6,272.7L257.4,271.1M257.4,271.1l1.8,-4.0M255.4,271.3l0.9,-2.1M261.5,272.7L276.1,270.6M276.1,270.6l1.6,-4.1M274.2,270.8l0.8,-2.1M280.3,272.7L295.0,270.7M295.0,270.7l1.7,-4.1M293.0,271.0l1.7,-4.1M299.2,272.7L313.9,271.4M313.9,271.4l1.9,-4.0M312.0,271.6l1.9,-4.0M318.1,272.7L332.7,270.8M332.7,270.8l1.7,-4.1M330.7,271.0l1.7,-4.1M336.9,272.7L351.5,270.3M351.5,270.3l1.6,-4.1M349.5,270.6l1.6,-4.1M355.8,272.7L370.4,270.3M370.4,270.3l1.6,-4.1M368.4,270.6l1.6,-4.1M374.6,272.7L389.3,270.6M389.3,270.6l1.6,-4.1M387.3,270.9l1.6,-4.1M393.5,272.7L408.1,270.5M408.1,270.5l1.6,-4.1M406.1,270.8l1.6,-4.1M412.3,272.7L427.0,270.6M427.0,270.6l1.6,-4.1M425.0,270.9l1.6,-4.1M431.2,272.7L445.8,270.5M445.8,270.5l1.6,-4.1M443.8,270.8l1.6,-4.1M450.0,272.7L464.6,270.1M464.6,270.1l1.5,-4.1M462.6,270.5l1.5,-4.1M468.9,272.7L483.4,270.2M483.4,270.2l1.5,-4.1M481.5,270.5l1.5,-4.1M487.7,272.7L502.4,271.1M502.4,271.1l1.8,-4.0M500.4,271.3l1.8,-4.0M506.6,272.7L521.3,272.1M521.3,272.1l2.0,-3.9M519.3,272.1l2.0,-3.9M525.4,272.7L540.2,271.8M540.2,271.8l2.0,-3.9M538.2,271.9l2.0,-3.9M544.3,272.7L559.0,271.4M559.0,271.4l1.9,-4.0M557.0,271.6l1.9,-4.0M563.1,272.7L577.9,273.2M577.9,273.2l2.3,-3.7M575.9,273.1l2.3,-3.7M582.0,272.7L596.7,274.1M596.7,274.1l2.5,-3.6M594.7,273.9l2.5,-3.6M600.8,272.7L615.6,272.9M615.6,272.9l2.2,-3.8M613.6,272.9l2.2,-3.8M619.7,272.7L634.4,272.9M634.4,272.9l2.2,-3.8M632.4,272.9l2.2,-3.8M81.9,288.1L89.9,300.5M89.9,300.5l4.4,-0.2M100.8,288.1L108.2,300.8M108.2,300.8l4.4,-0.0M119.6,288.1L127.4,300.6M127.4,300.6l4.4,-0.1M138.4,288.1L140.9,302.6M140.9,302.6l4.1,1.5M157.3,288.1L161.8,302.1M161.8,302.1l4.3,0.9M176.1,288.1L190.9,288.1M190.9,288.1l2.2,-3.8M195.0,288.1L209.8,287.1M209.8,287.1l2.0,-3.9M213.8,288.1L228.6,286.4M228.6,286.4l1.8,-4.0M226.6,286.6l0.9,-2.1M232.7,288.1L247.4,286.4M247.4,286.4l1.8,-4.0M245.4,286.6l0.9,-2.1M251.5,288.1L266.2,286.0M266.2,286.0l1.6,-4.1M264.2,286.2l0.9,-2.1M270.4,288.1L284.9,285.1M284.9,285.1l1.4,-4.2M282.9,285.5l0.7,-2.2M289.2,288.1L303.8,285.5M303.8,285.5l1.5,-4.1M301.9,285.8l1.5,-4.1M308.1,288.1L322.6,285.3M322.6,285.3l1.4,-4.2M320.7,285.6l1.4,-4.2M327.0,288.1L341.1,283.7M341.1,283.7l1.0,-4.3M339.2,284.3l0.5,-2.2M345.8,288.1L360.0,283.9M360.0,283.9l1.1,-4.3M358.1,284.5l0.6,-2.2M364.7,288.1L379.1,284.8M379.1,284.8l1.3,-4.2M377.1,285.3l1.3,-4.2M383.5,288.1L398.1,285.4M398.1,285.4l1.5,-4.1M396.1,285.7l1.5,-4.1M402.4,288.1L416.8,284.8M416.8,284.8l1.3,-4.2M414.8,285.2l1.3,-4.2M421.2,288.1L435.6,284.7M435.6,284.7l1.3,-4.2M433.7,285.1l0.7,-2.2M440.1,288.1L454.5,284.7M454.5,284.7l1.3,-4.2M452.5,285.1l0.7,-2.2M458.9,288.1L473.4,285.3M473.4,285.3l1.4,-4.2M471.5,285.6l1.4,-4.2M477.8,288.1L492.3,285.5M492.3,285.5l1.5,-4.1M490.4,285.8l1.5,-4.1M496.6,288.1L511.3,286.8M511.3,286.8l1.9,-4.0M509.4,286.9l1.9,-4.0M515.5,288.1L530.2,287.9M530.2,287.9l2.2,-3.8M528.2,287.9l2.2,-3.8M534.3,288.1L549.1,287.8M549.1,287.8l2.1,-3.8M547.1,287.8l2.1,-3.8M553.2,288.1L567.9,289.5M567.9,289.5l2.6,-3.6M565.9,289.3l2.6,-3.6M572.0,288.1L586.7,290.1M586.7,290.1l2.7,-3.5M584.7,289.8l2.7,-3.5M590.9,288.1L605.5,290.4M605.5,290.4l2.8,-3.4M603.5,290.1l2.8,-3.4M609.7,288.1L624.5,289.2M624.5,289.2l2.5,-3.6M622.5,289.1l2.5,-3.6M73.0,303.4L77.3,317.6M77.3,317.6l4.3,1.0M91.8,303.4L97.4,317.1M97.4,317.1l4.4,0.6M110.7,303.4L115.8,317.3M115.8,317.3l4.3,0.8M129.5,303.4L131.8,318.0M131.8,318.0l4.1,1.6M148.4,303.4L147.1,318.1M147.1,318.1l3.6,2.5M167.2,303.4L175.9,315.4M175.9,315.4l4.4,-0.5M186.1,303.4L200.9,303.2M200.9,303.2l2.2,-3.8M204.9,303.4L217.0,294.8M217.0,294.8l-0.4,-4.4M215.4,296.0l-0.2,-2.3M223.8,303.4L236.1,295.1M236.1,295.1l-0.3,-4.4M234.4,296.2l-0.2,-2.3M242.6,303.4L254.6,294.6M254.6,294.6l-0.5,-4.4M253.0,295.8l-0.3,-2.3M261.5,303.4L274.0,295.6M274.0,295.6l-0.2,-4.4M272.4,296.6l-0.1,-2.3M280.3,303.4L293.7,296.9M293.7,296.9l0.3,-4.4M291.9,297.8l0.2,-2.3M299.2,303.4L312.7,297.2M312.7,297.2l0.4,-4.4M310.8,298.1l0.2,-2.3M318.1,303.4L331.5,297.2M331.5,297.2l0.4,-4.4M329.7,298.0l0.2,-2.3M336.9,303.4L350.4,297.3M350.4,297.3l0.4,-4.4M348.6,298.2l0.2,-2.3M355.8,303.4L369.6,298.1M369.6,298.1l0.7,-4.3M367.7,298.8l0.4,-2.3M374.6,303.4L388.5,298.4M388.5,298.4l0.8,-4.3M386.6,299.1l0.4,-2.3M393.5,303.4L407.4,298.5M407.4,298.5l0.8,-4.3M405.5,299.2l0.4,-2.3M412.3,303.4L426.4,298.9M426.4,298.9l0.9,-4.3M424.5,299.5l0.5,-2.2M431.2,303.4L445.3,299.0M445.3,299.0l1.0,-4.3M443.4,299.6l0.5,-2.2M450.0,303.4L464.1,298.9M464.1,298.9l0.9,-4.3M462.2,299.5l0.5,-2.2M468.9,303.4L483.1,299.5M483.1,299.5l1.1,-4.3M481.2,300.0l0.6,-2.2M487.7,303.4L502.3,300.9M502.3,300.9l1.5,-4.1M500.3,301.2l0.8,-2.2M506.6,303.4L521.3,302.7M521.3,302.7l2.0,-3.9M519.3,302.8l1.1,-2.0M525.4,303.4L540.2,304.6M540.2,304.6l2.5,-3.6M538.2,304.4l2.5,-3.6M544.3,303.4L558.9,305.4M558.9,305.4l2.7,-3.5M556.9,305.2l2.7,-3.5M563.1,303.4L577.7,305.6M577.7,305.6l2.7,-3.4M575.8,305.3l2.7,-3.4M582.0,303.4L596.5,306.0M596.5,306.0l2.8,-3.4M594.6,305.6l2.8,-3.4M600.8,303.4L615.4,306.0M615.4,306.0l2.8,-3.4M613.4,305.6l2.8,-3.4M619.7,303.4L634.2,306.0M634.2,306.0l2.8,-3.4M632.3,305.6l2.8,-3.4M81.9,318.8L81.5,333.5M81.5,333.5l3.7,2.3M100.8,318.8L99.8,333.5M99.8,333.5l3.7,2.4M119.6,318.8L118.6,333.5M118.6,333.5l3.7,2.4M138.4,318.8L139.0,333.5M139.0,333.5l3.9,2.1M157.3,318.8L158.3,333.5M158.3,333.5l4.0,1.9M176.1,318.8L185.7,330.1M185.7,330.1l4.3,-0.8M195.0,318.8L185.4,307.5M185.4,307.5l-4.3,0.8M213.8,318.8L222.6,306.8M222.6,306.8l-1.8,-4.0M221.4,308.4l-0.9,-2.1M232.7,318.8L243.1,308.2M243.1,308.2l-1.2,-4.2M241.7,309.6l-0.6,-2.2M251.5,318.8L261.1,307.4M261.1,307.4l-1.5,-4.1M259.8,309.0l-0.8,-2.2M270.4,318.8L280.6,308.0M280.6,308.0l-1.2,-4.2M279.2,309.5l-0.6,-2.2M289.2,318.8L301.0,309.8M301.0,309.8l-0.6,-4.4M299.4,311.0l-0.3,-2.3M308.1,318.8L321.4,312.2M321.4,312.2l0.3,-4.4M319.6,313.1l0.2,-2.3M327.0,318.8L339.9,311.6M339.9,311.6l0.1,-4.4M338.2,312.6l0.1,-2.3M345.8,318.8L358.6,311.4M358.6,311.4l0.0,-4.4M356.9,312.4l0.0,-2.3M364.7,318.8L378.2,312.8M378.2,312.8l0.5,-4.4M376.4,313.6l0.3,-2.3M383.5,318.8L397.4,313.6M397.4,313.6l0.7,-4.3M395.5,314.3l0.4,-2.3M402.4,318.8L416.1,313.3M416.1,313.3l0.6,-4.4M414.2,314.0l0.3,-2.3M421.2,318.8L435.0,313.3M435.0,313.3l0.7,-4.4M433.1,314.1l0.3,-2.3M440.1,318.8L454.1,314.1M454.1,314.1l0.9,-4.3M452.2,314.7l0.5,-2.3M458.9,318.8L473.0,314.2M473.0,314.2l0.9,-4.3M471.1,314.8l0.5,-2.2M477.8,318.8L492.0,314.8M492.0,314.8l1.1,-4.3M490.1,315.3l0.6,-2.2M496.6,318.8L511.0,315.3M511.0,315.3l1.3,-4.2M509.1,315.8l0.7,-2.2M515.5,318.8L530.2,318.3M530.2,318.3l2.1,-3.9M528.2,318.3l1.1,-2.0M534.3,318.8L548.8,321.5M548.8,321.5l2.9,-3.3M546.9,321.1l2.9,-3.3M553.2,318.8L567.5,322.2M567.5,322.2l3.0,-3.2M565.6,321.7l3.0,-3.2M572.0,318.8L586.4,322.1M586.4,322.1l3.0,-3.2M584.5,321.7l3.0,-3.2M590.9,318.8L605.2,322.4M605.2,322.4l3.1,-3.2M603.3,321.9l3.1,-3.2M609.7,318.8L624.1,322.3M624.1,322.3l3.0,-3.2M622.1,321.8l3.0,-3.2M73.0,334.1L70.5,348.7M70.5,348.7l3.4,2.8M91.8,334.1L89.8,348.8M89.8,348.8l3.5,2.7M110.7,334.1L109.7,348.9M109.7,348.9l3.6,2.5M129.5,334.1L129.0,348.9M129.0,348.9l3.7,2.3M148.4,334.1L145.6,348.6M145.6,348.6l3.3,2.9M167.2,334.1L159.2,346.5M159.2,346.5l2.0,3.9M186.1,334.1L171.5,336.4M171.5,336.4l-1.6,4.1M204.9,334.1L190.2,334.1M190.2,334.1l-2.2,3.8M223.8,334.1L210.7,327.2M210.7,327.2l-3.7,2.3M242.6,334.1L247.6,320.1M247.6,320.1l-2.9,-3.3M246.9,322.0l-1.5,-1.7M261.5,334.1L267.6,320.6M267.6,320.6l-2.6,-3.6M266.8,322.4l-1.3,-1.9M280.3,334.1L287.7,321.3M287.7,321.3l-2.2,-3.8M286.7,323.0l-1.2,-2.0M299.2,334.1L307.1,321.6M307.1,321.6l-2.1,-3.9M306.0,323.3l-1.1,-2.0M318.1,334.1L328.2,323.3M328.2,323.3l-1.3,-4.2M326.8,324.8l-0.7,-2.2M336.9,334.1L348.7,325.1M348.7,325.1l-0.6,-4.4M347.1,326.3l-0.3,-2.3M355.8,334.1L367.9,325.7M367.9,325.7l-0.4,-4.4M366.3,326.8l-0.2,-2.3M374.6,334.1L387.2,326.4M387.2,326.4l-0.1,-4.4M385.5,327.4l-0.1,-2.3M393.5,334.1L406.6,327.3M406.6,327.3l0.2,-4.4M404.8,328.2l0.1,-2.3M412.3,334.1L425.5,327.4M425.5,327.4l0.2,-4.4M423.7,328.3l0.1,-2.3M431.2,334.1L444.4,327.5M444.4,327.5l0.3,-4.4M442.6,328.4l0.1,-2.3M450.0,334.1L463.7,328.6M463.7,328.6l0.6,-4.4M461.9,329.4l0.3,-2.3M468.9,334.1L482.9,329.4M482.9,329.4l0.9,-4.3M481.0,330.0l0.5,-2.3M487.7,334.1L501.4,328.6M501.4,328.6l0.6,-4.4M499.6,329.3l0.3,-2.3M506.6,334.1L520.3,328.6M520.3,328.6l0.6,-4.4M518.4,329.3l0.3,-2.3M525.4,334.1L540.1,335.6M540.1,335.6l2.6,-3.6M538.1,335.4l1.3,-1.9M544.3,334.1L558.5,337.9M558.5,337.9l3.1,-3.1M556.6,337.4l3.1,-3.1M563.1,334.1L577.4,338.0M577.4,338.0l3.1,-3.1M575.4,337.5l3.1,-3.1M582.0,334.1L596.2,338.0M596.2,338.0l3.1,-3.1M594.3,337.5l3.1,-3.1M600.8,334.1L615.1,338.1M615.1,338.1l3.1,-3.1M613.1,337.5l3.1,-3.1M619.7,334.1L633.9,337.9M633.9,337.9l3.1,-3.1M632.0,337.4l3.1,-3.1M81.9,349.4L79.4,364.0M79.4,364.0l3.4,2.8M100.8,349.4L98.9,364.1M98.9,364.1l3.5,2.7M119.6,349.4L117.8,364.1M117.8,364.1l3.5,2.6M138.4,349.4L133.1,363.3M133.1,363.3l2.8,3.4M157.3,349.4L147.3,360.3M147.3,360.3l1.3,4.2M176.1,349.4L165.4,359.6M165.4,359.6l1.0,4.3M195.0,349.4L180.3,351.0M180.3,351.0l-1.8,4.0M213.8,349.4L199.2,347.3M199.2,347.3l-2.7,3.5M232.7,349.4L221.9,339.3M221.9,339.3l-4.2,1.3M251.5,349.4L250.6,334.7M250.6,334.7l-3.9,-2.0M250.7,336.7l-2.1,-1.0M270.4,349.4L275.4,335.5M275.4,335.5l-2.8,-3.4M274.8,337.4l-1.5,-1.8M289.2,349.4L296.5,336.5M296.5,336.5l-2.3,-3.8M295.5,338.3l-1.2,-2.0M308.1,349.4L315.6,336.7M315.6,336.7l-2.2,-3.8M314.6,338.4l-1.1,-2.0M327.0,349.4L336.4,338.0M336.4,338.0l-1.5,-4.1M335.1,339.6l-0.8,-2.2M345.8,349.4L357.6,340.6M357.6,340.6l-0.5,-4.4M356.0,341.8l-0.3,-2.3M364.7,349.4L376.8,340.9M376.8,340.9l-0.4,-4.4M375.1,342.1l-0.2,-2.3M383.5,349.4L395.4,340.7M395.4,340.7l-0.5,-4.4M393.8,341.9l-0.3,-2.3M402.4,349.4L414.8,341.4M414.8,341.4l-0.2,-4.4M413.1,342.5l-0.1,-2.3M421.2,349.4L434.3,342.5M434.3,342.5l0.1,-4.4M432.5,343.4l0.1,-2.3M440.1,349.4L453.1,342.5M453.1,342.5l0.2,-4.4M451.4,343.5l0.1,-2.3M458.9,349.4L472.5,343.6M472.5,343.6l0.5,-4.4M470.7,344.4l0.3,-2.3M477.8,349.4L491.6,344.2M491.6,344.2l0.7,-4.3M489.7,344.9l0.4,-2.3M496.6,349.4L510.0,343.2M510.0,343.2l0.4,-4.4M508.2,344.1l0.2,-2.3M515.5,349.4L529.8,345.8M529.8,345.8l1.2,-4.2M527.9,346.3l0.6,-2.2M534.3,349.4L548.5,353.8M548.5,353.8l3.2,-3.0M546.5,353.2l1.7,-1.6M553.2,349.4L567.2,354.0M567.2,354.0l3.3,-2.9M565.3,353.4l1.7,-1.5M572.0,349.4L585.9,354.5M585.9,354.5l3.4,-2.8M584.0,353.8l1.8,-1.5M590.9,349.4L604.8,354.5M604.8,354.5l3.4,-2.8M602.9,353.8l1.8,-1.5M609.7,349.4L623.6,354.5M623.6,354.5l3.4,-2.8M621.7,353.8l1.8,-1.5M73.0,364.8L69.9,379.3M69.9,379.3l3.3,2.9M91.8,364.8L88.7,379.3M88.7,379.3l3.2,3.0M110.7,364.8L107.1,379.2M107.1,379.2l3.2,3.1M129.5,364.8L123.5,378.3M123.5,378.3l2.6,3.6M148.4,364.8L138.9,376.1M138.9,376.1l1.5,4.1M167.2,364.8L156.8,375.3M156.8,375.3l1.1,4.3M186.1,364.8L173.5,372.6M173.5,372.6l0.1,4.4M204.9,364.8L190.2,364.6M190.2,364.6l-2.2,3.8M223.8,364.8L211.2,357.0M211.2,357.0l-3.9,2.1M242.6,364.8L231.4,355.2M231.4,355.2l-4.1,1.5M261.5,364.8L262.9,350.1M262.9,350.1l-3.6,-2.5M262.7,352.1l-1.9,-1.3M280.3,364.8L284.7,350.7M284.7,350.7l-3.0,-3.2M284.1,352.6l-1.6,-1.7M299.2,364.8L305.7,351.5M305.7,351.5l-2.5,-3.6M304.8,353.3l-1.3,-1.9M318.1,364.8L325.0,351.7M325.0,351.7l-2.3,-3.7M324.0,353.5l-1.2,-1.9M336.9,364.8L345.8,352.9M345.8,352.9l-1.7,-4.0M344.6,354.5l-0.9,-2.1M355.8,364.8L366.5,354.6M366.5,354.6l-1.0,-4.3M365.1,356.0l-0.5,-2.2M374.6,364.8L385.4,354.6M385.4,354.6l-1.0,-4.3M383.9,356.0l-0.5,-2.2M393.5,364.8L404.1,354.6M404.1,354.6l-1.0,-4.3M402.7,356.0l-0.5,-2.2M412.3,364.8L424.4,356.3M424.4,356.3l-0.4,-4.4M422.8,357.5l-0.2,-2.3M431.2,364.8L444.1,357.7M444.1,357.7l0.1,-4.4M442.4,358.6l0.1,-2.3M450.0,364.8L463.2,358.1M463.2,358.1l0.2,-4.4M461.4,359.0l0.1,-2.3M468.9,364.8L482.5,359.1M482.5,359.1l0.6,-4.4M480.6,359.8l0.3,-2.3M487.7,364.8L501.6,359.8M501.6,359.8l0.8,-4.3M499.8,360.5l0.4,-2.3M506.6,364.8L521.0,361.5M521.0,361.5l1.3,-4.2M519.0,361.9l0.7,-2.2M525.4,364.8L539.7,368.7M539.7,368.7l3.1,-3.1M537.8,368.2l1.6,-1.6M544.3,364.8L557.8,370.7M557.8,370.7l3.5,-2.6M556.0,369.9l1.8,-1.4M563.1,364.8L576.4,371.3M576.4,371.3l3.6,-2.5M574.6,370.4l1.9,-1.3M582.0,364.8L595.4,371.1M595.4,371.1l3.6,-2.5M593.5,370.2l1.9,-1.3M600.8,364.8L614.2,371.0M614.2,371.0l3.6,-2.5M612.4,370.2l1.9,-1.3M619.7,364.8L633.3,370.4M633.3,370.4l3.5,-2.7M631.5,369.7l1.8,-1.4M81.9,380.1L76.0,393.7M76.0,393.7l2.6,3.5M100.8,380.1L95.5,394.0M95.5,394.0l2.8,3.4M119.6,380.1L112.8,393.3M112.8,393.3l2.4,3.7M138.4,380.1L130.2,392.5M130.2,392.5l1.9,3.9M157.3,380.1L147.4,391.1M147.4,391.1l1.4,4.2M176.1,380.1L164.8,389.7M164.8,389.7l0.8,4.3M195.0,380.1L180.2,380.8M180.2,380.8l-2.0,3.9M213.8,380.1L199.1,379.6M199.1,379.6l-2.3,3.7M232.7,380.1L221.5,370.5M221.5,370.5l-4.2,1.4M251.5,380.1L243.5,367.7M243.5,367.7l-4.4,0.2M270.4,380.1L267.9,365.6M267.9,365.6l-4.1,-1.5M289.2,380.1L291.7,365.6M291.7,365.6l-3.4,-2.8M291.4,367.5l-1.8,-1.5M308.1,380.1L313.1,366.2M313.1,366.2l-2.8,-3.4M312.5,368.1l-1.5,-1.8M327.0,380.1L332.7,366.5M332.7,366.5l-2.7,-3.5M331.9,368.4l-1.4,-1.8M345.8,380.1L352.5,367.0M352.5,367.0l-2.4,-3.7M351.6,368.7l-1.3,-1.9M364.7,380.1L372.9,367.9M372.9,367.9l-1.9,-4.0M371.8,369.5l-1.0,-2.1M383.5,380.1L393.8,369.6M393.8,369.6l-1.2,-4.2M392.4,371.0l-0.6,-2.2M402.4,380.1L412.6,369.5M412.6,369.5l-1.2,-4.2M411.2,370.9l-0.6,-2.2M421.2,380.1L432.7,370.8M432.7,370.8l-0.7,-4.3M431.1,372.0l-0.4,-2.3M440.1,380.1L452.9,372.8M452.9,372.8l0.0,-4.4M451.2,373.8l0.0,-2.3M458.9,380.1L472.3,373.8M472.3,373.8l0.3,-4.4M470.5,374.6l0.2,-2.3M477.8,380.1L491.2,374.0M491.2,374.0l0.4,-4.4M489.4,374.9l0.2,-2.3M496.6,380.1L510.6,375.3M510.6,375.3l0.8,-4.3M508.7,375.9l0.4,-2.3M515.5,380.1L530.1,378.1M530.1,378.1l1.7,-4.1M528.1,378.4l0.9,-2.1M534.3,380.1L547.6,386.6M547.6,386.6l3.6,-2.5M545.8,385.8l1.9,-1.3M553.2,380.1L566.0,387.5M566.0,387.5l3.8,-2.2M564.3,386.5l2.0,-1.2M572.0,380.1L584.8,387.6M584.8,387.6l3.8,-2.2M583.1,386.6l2.0,-1.1M590.9,380.1L603.8,387.3M603.8,387.3l3.8,-2.3M602.0,386.4l2.0,-1.2M609.7,380.1L622.5,387.5M622.5,387.5l3.8,-2.2M620.8,386.5l2.0,-1.2M73.0,395.5L66.8,409.0M66.8,409.0l2.5,3.6M91.8,395.5L85.7,409.0M85.7,409.0l2.6,3.6M110.7,395.5L104.3,408.8M104.3,408.8l2.5,3.6M129.5,395.5L121.1,407.7M121.1,407.7l1.9,4.0M148.4,395.5L139.9,407.6M139.9,407.6l1.9,4.0M167.2,395.5L157.4,406.6M157.4,406.6l1.4,4.2M186.1,395.5L175.8,406.1M175.8,406.1l1.2,4.2M204.9,395.5L190.2,394.8M190.2,394.8l-2.4,3.7M223.8,395.5L213.0,385.4M213.0,385.4l-4.2,1.3M242.6,395.5L232.5,384.8M232.5,384.8l-4.3,1.0M261.5,395.5L255.0,382.2M255.0,382.2l-4.4,-0.3M280.3,395.5L273.8,382.2M273.8,382.2l-4.4,-0.3M299.2,395.5L303.4,381.3M303.4,381.3l-3.0,-3.2M302.8,383.2l-1.6,-1.7M318.1,395.5L323.1,381.6M323.1,381.6l-2.8,-3.4M322.4,383.5l-1.5,-1.8M336.9,395.5L343.0,382.0M343.0,382.0l-2.6,-3.6M342.2,383.8l-1.3,-1.9M355.8,395.5L362.0,382.1M362.0,382.1l-2.5,-3.6M361.2,383.9l-1.3,-1.9M374.6,395.5L383.3,383.6M383.3,383.6l-1.8,-4.0M382.2,385.2l-0.9,-2.1M393.5,395.5L402.2,383.6M402.2,383.6l-1.8,-4.0M401.0,385.2l-0.9,-2.1M412.3,395.5L422.0,384.3M422.0,384.3l-1.4,-4.2M420.7,385.8l-0.7,-2.2M431.2,395.5L443.0,386.6M443.0,386.6l-0.5,-4.4M441.4,387.8l-0.3,-2.3M450.0,395.5L463.4,389.1M463.4,389.1l0.3,-4.4M461.5,390.0l0.2,-2.3M468.9,395.5L482.2,389.2M482.2,389.2l0.4,-4.4M480.4,390.0l0.2,-2.3M487.7,395.5L499.5,386.5M499.5,386.5l-0.6,-4.4M497.9,387.8l-0.3,-2.3M506.6,395.5L518.7,387.1M518.7,387.1l-0.4,-4.4M517.1,388.2l-0.2,-2.3M525.4,395.5L538.7,389.0M538.7,389.0l0.3,-4.4M536.9,389.9l0.2,-2.3M544.3,395.5L555.6,404.9M555.6,404.9l4.1,-1.5M563.1,395.5L575.0,404.3M575.0,404.3l4.0,-1.8M582.0,395.5L593.8,404.4M593.8,404.4l4.1,-1.7M600.8,395.5L613.1,403.8M613.1,403.8l4.0,-1.9M619.7,395.5L631.9,403.7M631.9,403.7l3.9,-1.9M81.9,410.9L76.3,424.5M76.3,424.5l2.7,3.5M100.8,410.9L95.7,424.8M95.7,424.8l2.8,3.4M119.6,410.9L112.6,423.9M112.6,423.9l2.3,3.7M138.4,410.9L130.3,423.2M130.3,423.2l2.0,3.9M157.3,410.9L149.1,423.2M149.1,423.2l1.9,3.9M176.1,410.9L164.5,420.0M164.5,420.0l0.3,2.3M195.0,410.9L181.3,416.6M181.3,416.6l-0.3,2.3M213.8,410.9L200.9,403.6M200.9,403.6l-2.0,1.2M232.7,410.9L222.4,400.2M222.4,400.2l-4.3,1.1M251.5,410.9L247.1,396.7M247.1,396.7l-4.3,-1.0M270.4,410.9L263.3,397.9M263.3,397.9l-4.4,-0.1M289.2,410.9L284.6,396.8M284.6,396.8l-4.3,-0.9M308.1,410.9L311.4,396.4M311.4,396.4l-3.2,-3.0M311.0,398.4l-1.7,-1.6M327.0,410.9L330.7,396.5M330.7,396.5l-3.1,-3.1M330.2,398.5l-1.6,-1.6M345.8,410.9L350.7,396.9M350.7,396.9l-2.9,-3.3M350.1,398.8l-1.5,-1.7M364.7,410.9L370.5,397.3M370.5,397.3l-2.6,-3.5M369.7,399.1l-1.4,-1.8M383.5,410.9L391.9,398.7M391.9,398.7l-1.9,-4.0M390.8,400.3l-1.0,-2.1M402.4,410.9L411.8,399.4M411.8,399.4l-1.5,-4.1M410.5,401.0l-0.8,-2.2M421.2,410.9L431.2,399.9M431.2,399.9l-1.3,-4.2M429.8,401.4l-0.7,-2.2M440.1,410.9L452.2,402.5M452.2,402.5l-0.3,-4.4M450.6,403.6l-0.2,-2.3M458.9,410.9L471.9,403.8M471.9,403.8l0.1,-4.4M470.2,404.8l0.1,-2.3M477.8,410.9L489.7,402.1M489.7,402.1l-0.5,-4.4M496.6,410.9L497.9,396.1M497.9,396.1l-3.6,-2.5M515.5,410.9L526.1,400.5M526.1,400.5l-1.1,-4.3M534.3,410.9L544.1,421.9M544.1,421.9l4.3,-0.9M553.2,410.9L562.9,422.0M562.9,422.0l4.3,-0.8M572.0,410.9L583.6,420.0M583.6,420.0l4.1,-1.6M590.9,410.9L602.8,419.5M602.8,419.5l4.0,-1.8M609.7,410.9L621.9,419.2M621.9,419.2l4.0,-1.9M73.0,426.2L68.4,440.3M68.4,440.3l2.9,3.3M91.8,426.2L86.8,440.1M86.8,440.1l2.8,3.4M110.7,426.2L106.0,440.2M106.0,440.2l2.9,3.3M129.5,426.2L125.4,440.4M125.4,440.4l3.0,3.2M148.4,426.2L142.9,439.9M142.9,439.9l2.7,3.5M167.2,426.2L160.6,439.4M160.6,439.4l2.4,3.7M186.1,426.2L172.7,432.5M172.7,432.5l-0.2,2.3M204.9,426.2L190.2,425.9M190.2,425.9l-1.2,2.0M223.8,426.2L212.2,417.0M212.2,417.0l-2.1,0.8M242.6,426.2L242.2,411.4M242.2,411.4l-3.9,-2.1M261.5,426.2L261.3,411.4M261.3,411.4l-3.8,-2.1M280.3,426.2L279.3,411.4M279.3,411.4l-4.0,-1.9M299.2,426.2L302.0,411.7M302.0,411.7l-3.3,-2.9M318.1,426.2L319.9,411.5M319.9,411.5l-3.5,-2.7M319.7,413.5l-1.8,-1.4M336.9,426.2L333.1,411.9M333.1,411.9l-4.2,-1.2M333.6,413.8l-4.2,-1.2M355.8,426.2L352.8,411.7M352.8,411.7l-4.2,-1.4M353.2,413.7l-4.2,-1.4M374.6,426.2L377.6,411.7M377.6,411.7l-3.3,-2.9M377.2,413.7l-1.7,-1.5M393.5,426.2L404.9,416.9M404.9,416.9l-0.7,-4.3M412.3,426.2L423.3,416.4M423.3,416.4l-0.9,-4.3M431.2,426.2L441.0,415.2M441.0,415.2l-1.4,-4.2M450.0,426.2L462.7,418.6M462.7,418.6l-0.1,-4.4M468.9,426.2L481.6,418.7M481.6,418.7l-0.0,-4.4M487.7,426.2L496.1,414.0M496.1,414.0l-1.9,-4.0M506.6,426.2L509.6,411.7M509.6,411.7l-3.3,-2.9M525.4,426.2L528.2,440.7M528.2,440.7l4.2,1.4M544.3,426.2L553.0,438.1M553.0,438.1l4.4,-0.5M563.1,426.2L573.7,436.5M573.7,436.5l4.2,-1.2M582.0,426.2L593.3,435.7M593.3,435.7l4.1,-1.5M600.8,426.2L612.9,434.7M612.9,434.7l4.0,-1.9M619.7,426.2L631.8,434.7M631.8,434.7l4.0,-1.9M81.9,441.6L76.9,455.5M76.9,455.5l2.8,3.4M100.8,441.6L94.5,455.0M94.5,455.0l2.5,3.6M119.6,441.6L119.3,456.3M119.3,456.3l3.8,2.3M138.4,441.6L138.5,456.3M138.5,456.3l3.8,2.2M157.3,441.6L152.7,455.6M152.7,455.6l2.9,3.3M176.1,441.6L173.6,456.1M173.6,456.1l1.8,1.5M195.0,441.6L208.3,435.2M208.3,435.2l0.2,-2.3M213.8,441.6L227.3,435.4M227.3,435.4l0.2,-2.3M232.7,441.6L237.1,427.4M237.1,427.4l-3.0,-3.2M251.5,441.6L252.5,426.8M252.5,426.8l-3.7,-2.4M270.4,441.6L273.5,427.1M273.5,427.1l-3.3,-2.9M289.2,441.6L293.1,427.3M293.1,427.3l-3.1,-3.1M308.1,441.6L311.9,427.2M311.9,427.2l-3.1,-3.1M327.0,441.6L324.3,427.0M324.3,427.0l-4.1,-1.5M324.7,428.9l-2.2,-0.8M345.8,441.6L339.6,428.1M339.6,428.1l-4.4,-0.4M340.4,429.9l-4.4,-0.4M364.7,441.6L359.5,427.7M359.5,427.7l-4.3,-0.7M360.2,429.5l-4.3,-0.7M383.5,441.6L381.5,426.9M381.5,426.9l-4.1,-1.7M381.7,428.9l-2.1,-0.9M402.4,441.6L402.9,426.8M402.9,426.8l-3.7,-2.3M402.8,428.8l-2.0,-1.2M421.2,441.6L426.5,427.7M426.5,427.7l-2.8,-3.4M440.1,441.6L448.4,429.4M448.4,429.4l-1.9,-4.0M458.9,441.6L471.4,433.6M471.4,433.6l-0.2,-4.4M477.8,441.6L489.6,432.7M489.6,432.7l-0.5,-4.4M496.6,441.6L508.4,432.6M508.4,432.6l-0.6,-4.4M515.5,441.6L529.9,444.8M529.9,444.8l3.0,-3.2M534.3,441.6L545.8,450.9M545.8,450.9l4.1,-1.6M553.2,441.6L562.7,452.8M562.7,452.8l4.3,-0.8M572.0,441.6L583.9,450.3M583.9,450.3l4.0,-1.8M590.9,441.6L601.4,452.0M601.4,452.0l4.2,-1.2M609.7,441.6L621.7,450.3M621.7,450.3l4.0,-1.8M73.0,456.9L73.5,471.7M73.5,471.7l3.9,2.1M91.8,456.9L94.6,471.4M94.6,471.4l4.1,1.5M110.7,456.9L120.4,468.1M120.4,468.1l4.3,-0.8M129.5,456.9L143.5,462.0M143.5,462.0l3.4,-2.8M148.4,456.9L162.4,461.8M162.4,461.8l3.3,-2.9M167.2,456.9L178.5,466.5M178.5,466.5l4.1,-1.5M186.1,456.9L199.8,462.4M199.8,462.4l3.5,-2.7M204.9,456.9L218.6,451.2M218.6,451.2l0.6,-4.4M223.8,456.9L235.7,448.1M235.7,448.1l-0.5,-4.4M242.6,456.9L253.4,446.8M253.4,446.8l-1.0,-4.3M261.5,456.9L269.1,444.2M269.1,444.2l-2.1,-3.8M280.3,456.9L286.9,443.6M286.9,443.6l-2.4,-3.7M299.2,456.9L303.5,442.7M303.5,442.7l-3.0,-3.2M318.1,456.9L321.0,442.4M321.0,442.4l-3.3,-2.9M336.9,456.9L333.0,442.6M333.0,442.6l-4.3,-1.1M333.6,444.5l-2.2,-0.6M355.8,456.9L350.0,443.3M350.0,443.3l-4.4,-0.5M350.8,445.1l-4.4,-0.5M374.6,456.9L367.2,444.1M367.2,444.1l-4.4,-0.0M368.2,445.8l-4.4,-0.0M393.5,456.9L389.6,442.6M389.6,442.6l-4.3,-1.1M390.1,444.5l-2.2,-0.6M412.3,456.9L409.9,442.3M409.9,442.3l-4.1,-1.5M410.2,444.3l-2.2,-0.8M431.2,456.9L421.2,445.9M421.2,445.9l-4.3,0.9M450.0,456.9L442.6,444.1M442.6,444.1l-4.4,-0.0M468.9,456.9L478.8,446.0M478.8,446.0l-1.3,-4.2M487.7,456.9L499.6,448.1M499.6,448.1l-0.5,-4.4M506.6,456.9L518.6,448.3M518.6,448.3l-0.4,-4.4M525.4,456.9L538.0,449.1M538.0,449.1l-0.1,-4.4M544.3,456.9L559.0,458.6M559.0,458.6l2.6,-3.5M563.1,456.9L577.9,455.7M577.9,455.7l1.9,-4.0M582.0,456.9L596.6,458.9M596.6,458.9l2.7,-3.5M600.8,456.9L615.6,456.6M615.6,456.6l2.1,-3.9M619.7,456.9L633.8,461.1M633.8,461.1l3.2,-3.0M81.9,472.2L87.0,486.1M87.0,486.1l4.3,0.7M100.8,472.2L112.9,480.8M112.9,480.8l4.0,-1.9M119.6,472.2L132.9,478.8M132.9,478.8l3.7,-2.5M138.4,472.2L153.2,472.3M153.2,472.3l2.2,-3.8M157.3,472.2L172.1,472.7M172.1,472.7l2.3,-3.7M176.1,472.2L190.9,472.2M190.9,472.2l2.2,-3.8M195.0,472.2L208.5,466.2M208.5,466.2l0.4,-4.4M213.8,472.2L226.9,465.4M226.9,465.4l0.2,-4.4M232.7,472.2L244.1,462.8M244.1,462.8l-0.7,-4.3M251.5,472.2L262.4,462.2M262.4,462.2l-1.0,-4.3M270.4,472.2L277.8,459.5M277.8,459.5l-2.2,-3.8M289.2,472.2L294.6,458.5M294.6,458.5l-2.7,-3.4M308.1,472.2L313.3,458.4M313.3,458.4l-2.8,-3.4M327.0,472.2L328.8,457.6M328.8,457.6l-3.5,-2.7M345.8,472.2L340.3,458.5M340.3,458.5l-4.4,-0.6M341.0,460.4l-2.3,-0.3M364.7,472.2L356.9,459.6M356.9,459.6l-4.4,0.1M357.9,461.3l-2.3,0.1M383.5,472.2L374.3,460.7M374.3,460.7l-4.4,0.7M375.5,462.2l-2.3,0.3M402.4,472.2L391.7,462.0M391.7,462.0l-4.2,1.2M421.2,472.2L410.4,462.1M410.4,462.1l-4.2,1.3M440.1,472.2L427.2,464.8M427.2,464.8l-3.8,2.2M458.9,472.2L453.7,458.4M453.7,458.4l-4.3,-0.7M477.8,472.2L489.0,462.6M489.0,462.6l-0.8,-4.3M496.6,472.2L508.4,463.3M508.4,463.3l-0.5,-4.4M515.5,472.2L526.3,462.1M526.3,462.1l-1.0,-4.3M534.3,472.2L546.2,463.4M546.2,463.4l-0.5,-4.4M553.2,472.2L563.7,461.9M563.7,461.9l-1.1,-4.3M572.0,472.2L583.1,462.4M583.1,462.4l-0.9,-4.3M590.9,472.2L600.9,461.4M600.9,461.4l-1.3,-4.2M609.7,472.2L619.2,460.9M619.2,460.9l-1.5,-4.1M73.0,487.6L84.9,496.4M84.9,496.4l4.0,-1.8M91.8,487.6L105.7,492.9M105.7,492.9l3.4,-2.8M110.7,487.6L125.2,490.6M125.2,490.6l2.9,-3.3M129.5,487.6L144.3,488.9M144.3,488.9l2.5,-3.6M148.4,487.6L163.2,487.6M163.2,487.6l2.2,-3.8M167.2,487.6L182.0,485.9M182.0,485.9l1.8,-4.0M186.1,487.6L200.4,483.8M200.4,483.8l1.1,-4.3M204.9,487.6L218.2,481.1M218.2,481.1l0.3,-4.4M223.8,487.6L236.6,480.2M236.6,480.2l-0.0,-4.4M242.6,487.6L254.0,478.1M254.0,478.1l-0.8,-4.3M261.5,487.6L272.7,477.9M272.7,477.9l-0.8,-4.3M280.3,487.6L287.7,474.8M287.7,474.8l-2.2,-3.8M299.2,487.6L305.9,474.4M305.9,474.4l-2.4,-3.7M318.1,487.6L322.8,473.6M322.8,473.6l-2.9,-3.3M336.9,487.6L334.0,473.1M334.0,473.1l-4.2,-1.4M334.4,475.0l-2.2,-0.7M355.8,487.6L346.3,476.2M346.3,476.2l-4.3,0.7M347.6,477.8l-2.3,0.4M374.6,487.6L365.1,476.3M365.1,476.3l-4.3,0.8M366.4,477.8l-2.3,0.4M393.5,487.6L381.3,479.1M381.3,479.1l-4.0,1.9M412.3,487.6L400.9,478.1M400.9,478.1l-4.1,1.5M431.2,487.6L419.7,478.3M419.7,478.3l-4.1,1.6M450.0,487.6L441.2,475.7M441.2,475.7l-4.4,0.5M468.9,487.6L478.0,476.0M478.0,476.0l-1.6,-4.1M487.7,487.6L498.2,477.1M498.2,477.1l-1.1,-4.2M506.6,487.6L514.8,475.3M514.8,475.3l-1.9,-4.0M525.4,487.6L533.7,475.3M533.7,475.3l-1.9,-4.0M544.3,487.6L551.7,474.8M551.7,474.8l-2.2,-3.8M563.1,487.6L566.3,473.2M566.3,473.2l-3.2,-3.0M582.0,487.6L586.3,473.4M586.3,473.4l-3.0,-3.2M600.8,487.6L605.9,473.7M605.9,473.7l-2.8,-3.4M619.7,487.6L625.3,473.9M625.3,473.9l-2.7,-3.5M81.9,502.9L96.3,506.2M96.3,506.2l3.0,-3.2M100.8,502.9L115.3,505.8M115.3,505.8l2.9,-3.3M119.6,502.9L134.4,503.5M134.4,503.5l2.4,-3.7M138.4,502.9L153.1,501.2M153.1,501.2l1.7,-4.0M157.3,502.9L171.7,499.5M171.7,499.5l1.3,-4.2M176.1,502.9L189.5,496.6M189.5,496.6l0.3,-4.4M195.0,502.9L208.6,497.0M208.6,497.0l0.5,-4.4M213.8,502.9L226.1,494.7M226.1,494.7l-0.3,-4.4M232.7,502.9L244.6,494.2M244.6,494.2l-0.5,-4.4M251.5,502.9L262.8,493.4M262.8,493.4l-0.8,-4.3M270.4,502.9L279.6,491.4M279.6,491.4l-1.6,-4.1M289.2,502.9L296.4,490.0M296.4,490.0l-2.3,-3.8M308.1,502.9L313.2,489.0M313.2,489.0l-2.8,-3.4M327.0,502.9L330.6,488.6M330.6,488.6l-3.1,-3.1M345.8,502.9L340.5,489.1M340.5,489.1l-4.3,-0.7M341.2,491.0l-2.3,-0.4M364.7,502.9L355.6,491.2M355.6,491.2l-4.4,0.6M356.8,492.8l-2.3,0.3M383.5,502.9L373.8,491.7M373.8,491.7l-4.3,0.8M402.4,502.9L391.1,493.3M391.1,493.3l-4.2,1.5M421.2,502.9L409.1,494.5M409.1,494.5l-4.0,1.9M440.1,502.9L430.3,491.8M430.3,491.8l-4.3,0.9M458.9,502.9L462.4,488.6M462.4,488.6l-3.2,-3.0M477.8,502.9L488.8,493.1M488.8,493.1l-0.9,-4.3M496.6,502.9L503.3,489.8M503.3,489.8l-2.4,-3.7M515.5,502.9L519.0,488.6M519.0,488.6l-3.2,-3.0M534.3,502.9L538.3,488.7M538.3,488.7l-3.1,-3.2M553.2,502.9L556.5,488.5M556.5,488.5l-3.2,-3.0M572.0,502.9L575.0,488.5M575.0,488.5l-3.3,-2.9M590.9,502.9L593.8,488.5M593.8,488.5l-3.3,-2.9M609.7,502.9L612.8,488.5M612.8,488.5l-3.3,-3.0M73.0,518.3L87.6,520.7M87.6,520.7l2.8,-3.4M91.8,518.3L106.6,519.7M106.6,519.7l2.5,-3.6M110.7,518.3L125.5,518.7M125.5,518.7l2.3,-3.7M129.5,518.3L144.3,517.9M144.3,517.9l2.1,-3.9M148.4,518.3L162.4,513.4M162.4,513.4l0.8,-4.3M167.2,518.3L180.8,512.3M180.8,512.3l0.5,-4.4M186.1,518.3L199.0,511.1M199.0,511.1l0.1,-4.4M204.9,518.3L217.3,510.1M217.3,510.1l-0.3,-4.4M223.8,518.3L235.9,509.8M235.9,509.8l-0.4,-4.4M242.6,518.3L254.0,508.8M254.0,508.8l-0.8,-4.3M261.5,518.3L272.3,508.2M272.3,508.2l-1.0,-4.3M280.3,518.3L287.8,505.5M287.8,505.5l-2.2,-3.8M299.2,518.3L305.8,505.1M305.8,505.1l-2.4,-3.7M318.1,518.3L322.0,504.0M322.0,504.0l-3.1,-3.1M336.9,518.3L340.3,503.9M340.3,503.9l-3.2,-3.0M355.8,518.3L350.1,504.6M350.1,504.6l-4.4,-0.6M374.6,518.3L365.1,506.9M365.1,506.9l-4.3,0.7M393.5,518.3L383.9,507.0M383.9,507.0l-4.3,0.8M412.3,518.3L400.8,508.9M400.8,508.9l-4.1,1.6M431.2,518.3L420.1,508.4M420.1,508.4l-4.2,1.4M450.0,518.3L446.7,503.9M446.7,503.9l-4.2,-1.3M468.9,518.3L463.8,504.4M463.8,504.4l-4.3,-0.8M487.7,518.3L481.6,504.8M481.6,504.8l-4.4,-0.4M506.6,518.3L506.1,503.5M506.1,503.5l-3.9,-2.1M525.4,518.3L523.2,503.7M523.2,503.7l-4.1,-1.6M544.3,518.3L545.2,503.5M545.2,503.5l-3.7,-2.4M563.1,518.3L561.9,503.5M561.9,503.5l-4.0,-1.9M582.0,518.3L582.6,503.5M582.6,503.5l-3.7,-2.4M600.8,518.3L598.3,503.7M598.3,503.7l-4.1,-1.5M619.7,518.3L620.7,503.5M620.7,503.5l-3.6,-2.5" fill="none" stroke="#000" stroke-width="1" stroke-linecap="butt"/>
<polyline points="477.7,53.0 482.6,58.0 490.0,62.8 497.4,60.4 504.8,56.7 517.0,55.5 527.0,55.5 531.8,60.4 536.8,65.3 541.7,70.2 546.6,75.0 549.0,82.5 546.6,92.4 544.2,102.2 541.7,112.0 543.0,119.5 541.7,126.8 536.8,134.2 531.8,141.6 534.3,151.5 539.2,161.3 544.2,168.7 549.0,176.0 554.0,181.0 558.0,185.0 565.6,192.6 573.3,200.2 577.1,203.0 580.9,208.1 584.7,215.7 587.3,225.9 588.6,231.0 593.7,238.7 598.8,248.8 602.6,261.6 602.6,271.8 601.3,279.4 603.8,289.6 608.9,297.2 611.5,304.9 610.2,317.6 606.4,327.8 598.8,334.1 593.7,340.5 589.8,348.2 587.3,355.8 584.7,366.0 583.5,373.0 580.9,378.3 578.4,386.0 577.1,396.1 577.1,406.3 578.4,416.5 583.5,426.7 589.8,436.8 596.2,447.0 601.3,457.2 606.4,467.4 611.5,475.0 616.6,482.7 620.4,490.3 621.7,500.5 621.2,510.7 621.7,520.9 625.5,528.0" fill="none" stroke="#000" stroke-width="2.6" stroke-linejoin="round" stroke-linecap="round"/>
<polyline points="250.0,53.0 271.0,61.5 297.0,54.0 300.0,53.0" fill="none" stroke="#000" stroke-width="2.6" stroke-linejoin="round" stroke-linecap="round"/>
<polyline points="545.3,95.8 628.0,95.8" fill="none" stroke="#000" stroke-width="2.2" stroke-linejoin="round" stroke-linecap="round"/>
<polyline points="572.8,95.8 572.8,114.5 542.5,114.5" fill="none" stroke="#000" stroke-width="2.2" stroke-linejoin="round" stroke-linecap="round"/>
<polyline points="601.3,95.8 602.6,111.1 606.4,111.1 619.1,109.8 619.1,116.2 614.0,126.4 617.9,134.0 624.2,139.1 623.0,151.9 621.7,165.9 614.0,169.7 606.4,168.4 594.9,162.0 591.1,169.7 578.4,172.2 578.4,179.9 583.5,187.5 580.9,191.3 573.3,192.6 568.2,193.9" fill="none" stroke="#000" stroke-width="2.2" stroke-linejoin="round" stroke-linecap="round"/>
<polyline points="578.4,203.0 583.5,208.1 593.7,206.8 598.8,204.3 606.0,207.0 616.6,200.2 624.2,207.9 629.0,212.0" fill="none" stroke="#000" stroke-width="2.2" stroke-linejoin="round" stroke-linecap="round"/>
<polyline points="584.7,210.0 584.7,222.0" fill="none" stroke="#000" stroke-width="2.2" stroke-linejoin="round" stroke-linecap="round"/>
<polyline points="587.3,228.5 606.4,224.6 611.5,222.1 616.6,224.6 629.3,225.9" fill="none" stroke="#000" stroke-width="2.2" stroke-linejoin="round" stroke-linecap="round"/>
<polyline points="577.1,403.7 588.6,403.7 598.8,402.5 606.4,403.7 614.0,407.6 621.7,406.3 629.3,406.3" fill="none" stroke="#000" stroke-width="2.2" stroke-linejoin="round" stroke-linecap="round"/>
<ellipse cx="529.5" cy="74.5" rx="3.2" ry="5" fill="none" stroke="#000" stroke-width="2" transform="rotate(20 529.5 74.5)"/>
<ellipse cx="496.5" cy="126" rx="2.6" ry="2.6" fill="none" stroke="#000" stroke-width="1.6"/>
<circle cx="297" cy="57.5" r="2" fill="none" stroke="#000" stroke-width="1.2"/>
<circle cx="507.5" cy="103.5" r="1.5" fill="#000"/>
<circle cx="480.5" cy="152.7" r="1.3" fill="#000"/>
<rect x="620.5" y="491" width="5" height="10" fill="none" stroke="#000" stroke-width="1.8"/>
<ellipse cx="544.5" cy="127.5" rx="3.5" ry="2" fill="#000"/>
<polygon points="161.5,250.1 163.5,254.8 168.6,255.3 164.7,258.7 165.9,263.7 161.5,261.0 157.1,263.7 158.3,258.7 154.4,255.3 159.5,254.8" fill="none" stroke="#000" stroke-width="2.9" stroke-linejoin="round"/>
<polygon points="300.5,378.2 302.5,382.9 307.6,383.4 303.7,386.8 304.9,391.8 300.5,389.1 296.1,391.8 297.3,386.8 293.4,383.4 298.5,382.9" fill="none" stroke="#000" stroke-width="2.9" stroke-linejoin="round"/>
</g>
<rect x="72" y="51" width="559" height="479" fill="none" stroke="#000" stroke-width="4"/>
<line x1="72.0" y1="530" x2="72.0" y2="548" stroke="#000" stroke-width="3.6"/>
<line x1="72.0" y1="51" x2="72.0" y2="33" stroke="#000" stroke-width="3.6"/>
<line x1="103.9" y1="530" x2="103.9" y2="539" stroke="#000" stroke-width="2"/>
<line x1="103.9" y1="51" x2="103.9" y2="42" stroke="#000" stroke-width="2"/>
<line x1="135.8" y1="530" x2="135.8" y2="539" stroke="#000" stroke-width="2"/>
<line x1="135.8" y1="51" x2="135.8" y2="42" stroke="#000" stroke-width="2"/>
<line x1="167.7" y1="530" x2="167.7" y2="539" stroke="#000" stroke-width="2"/>
<line x1="167.7" y1="51" x2="167.7" y2="42" stroke="#000" stroke-width="2"/>
<line x1="199.6" y1="530" x2="199.6" y2="539" stroke="#000" stroke-width="2"/>
<line x1="199.6" y1="51" x2="199.6" y2="42" stroke="#000" stroke-width="2"/>
<line x1="231.5" y1="530" x2="231.5" y2="548" stroke="#000" stroke-width="3.6"/>
<line x1="231.5" y1="51" x2="231.5" y2="33" stroke="#000" stroke-width="3.6"/>
<line x1="263.4" y1="530" x2="263.4" y2="539" stroke="#000" stroke-width="2"/>
<line x1="263.4" y1="51" x2="263.4" y2="42" stroke="#000" stroke-width="2"/>
<line x1="295.29999999999995" y1="530" x2="295.29999999999995" y2="539" stroke="#000" stroke-width="2"/>
<line x1="295.29999999999995" y1="51" x2="295.29999999999995" y2="42" stroke="#000" stroke-width="2"/>
<line x1="327.2" y1="530" x2="327.2" y2="539" stroke="#000" stroke-width="2"/>
<line x1="327.2" y1="51" x2="327.2" y2="42" stroke="#000" stroke-width="2"/>
<line x1="359.09999999999997" y1="530" x2="359.09999999999997" y2="539" stroke="#000" stroke-width="2"/>
<line x1="359.09999999999997" y1="51" x2="359.09999999999997" y2="42" stroke="#000" stroke-width="2"/>
<line x1="391.0" y1="530" x2="391.0" y2="548" stroke="#000" stroke-width="3.6"/>
<line x1="391.0" y1="51" x2="391.0" y2="33" stroke="#000" stroke-width="3.6"/>
<line x1="422.9" y1="530" x2="422.9" y2="539" stroke="#000" stroke-width="2"/>
<line x1="422.9" y1="51" x2="422.9" y2="42" stroke="#000" stroke-width="2"/>
<line x1="454.79999999999995" y1="530" x2="454.79999999999995" y2="539" stroke="#000" stroke-width="2"/>
<line x1="454.79999999999995" y1="51" x2="454.79999999999995" y2="42" stroke="#000" stroke-width="2"/>
<line x1="486.7" y1="530" x2="486.7" y2="539" stroke="#000" stroke-width="2"/>
<line x1="486.7" y1="51" x2="486.7" y2="42" stroke="#000" stroke-width="2"/>
<line x1="518.5999999999999" y1="530" x2="518.5999999999999" y2="539" stroke="#000" stroke-width="2"/>
<line x1="518.5999999999999" y1="51" x2="518.5999999999999" y2="42" stroke="#000" stroke-width="2"/>
<line x1="550.5" y1="530" x2="550.5" y2="548" stroke="#000" stroke-width="3.6"/>
<line x1="550.5" y1="51" x2="550.5" y2="33" stroke="#000" stroke-width="3.6"/>
<line x1="582.4" y1="530" x2="582.4" y2="539" stroke="#000" stroke-width="2"/>
<line x1="582.4" y1="51" x2="582.4" y2="42" stroke="#000" stroke-width="2"/>
<line x1="614.3" y1="530" x2="614.3" y2="539" stroke="#000" stroke-width="2"/>
<line x1="614.3" y1="51" x2="614.3" y2="42" stroke="#000" stroke-width="2"/>
<line x1="72" y1="514.5" x2="63" y2="514.5" stroke="#000" stroke-width="2"/>
<line x1="631" y1="514.5" x2="640" y2="514.5" stroke="#000" stroke-width="2"/>
<line x1="72" y1="482.5" x2="63" y2="482.5" stroke="#000" stroke-width="2"/>
<line x1="631" y1="482.5" x2="640" y2="482.5" stroke="#000" stroke-width="2"/>
<line x1="72" y1="450.5" x2="54" y2="450.5" stroke="#000" stroke-width="3"/>
<line x1="631" y1="450.5" x2="649" y2="450.5" stroke="#000" stroke-width="3"/>
<line x1="72" y1="418.5" x2="63" y2="418.5" stroke="#000" stroke-width="2"/>
<line x1="631" y1="418.5" x2="640" y2="418.5" stroke="#000" stroke-width="2"/>
<line x1="72" y1="386.5" x2="63" y2="386.5" stroke="#000" stroke-width="2"/>
<line x1="631" y1="386.5" x2="640" y2="386.5" stroke="#000" stroke-width="2"/>
<line x1="72" y1="354.5" x2="63" y2="354.5" stroke="#000" stroke-width="2"/>
<line x1="631" y1="354.5" x2="640" y2="354.5" stroke="#000" stroke-width="2"/>
<line x1="72" y1="322.5" x2="63" y2="322.5" stroke="#000" stroke-width="2"/>
<line x1="631" y1="322.5" x2="640" y2="322.5" stroke="#000" stroke-width="2"/>
<line x1="72" y1="290.5" x2="54" y2="290.5" stroke="#000" stroke-width="3"/>
<line x1="631" y1="290.5" x2="649" y2="290.5" stroke="#000" stroke-width="3"/>
<line x1="72" y1="258.5" x2="63" y2="258.5" stroke="#000" stroke-width="2"/>
<line x1="631" y1="258.5" x2="640" y2="258.5" stroke="#000" stroke-width="2"/>
<line x1="72" y1="226.5" x2="63" y2="226.5" stroke="#000" stroke-width="2"/>
<line x1="631" y1="226.5" x2="640" y2="226.5" stroke="#000" stroke-width="2"/>
<line x1="72" y1="194.5" x2="63" y2="194.5" stroke="#000" stroke-width="2"/>
<line x1="631" y1="194.5" x2="640" y2="194.5" stroke="#000" stroke-width="2"/>
<line x1="72" y1="162.5" x2="63" y2="162.5" stroke="#000" stroke-width="2"/>
<line x1="631" y1="162.5" x2="640" y2="162.5" stroke="#000" stroke-width="2"/>
<line x1="72" y1="130.5" x2="54" y2="130.5" stroke="#000" stroke-width="3"/>
<line x1="631" y1="130.5" x2="649" y2="130.5" stroke="#000" stroke-width="3"/>
<line x1="72" y1="98.5" x2="63" y2="98.5" stroke="#000" stroke-width="2"/>
<line x1="631" y1="98.5" x2="640" y2="98.5" stroke="#000" stroke-width="2"/>
<line x1="72" y1="66.5" x2="63" y2="66.5" stroke="#000" stroke-width="2"/>
<line x1="631" y1="66.5" x2="640" y2="66.5" stroke="#000" stroke-width="2"/>
<rect x="79.10" y="595" width="41.90" height="42" fill="#fefefc" stroke="#000" stroke-width="2"/>
<rect x="121.00" y="595" width="41.90" height="42" fill="#aaaaff" stroke="#000" stroke-width="2"/>
<rect x="162.90" y="595" width="41.90" height="42" fill="#5a5aff" stroke="#000" stroke-width="2"/>
<rect x="204.80" y="595" width="41.90" height="42" fill="#0000ff" stroke="#000" stroke-width="2"/>
<rect x="246.70" y="595" width="41.90" height="42" fill="#0036b4" stroke="#000" stroke-width="2"/>
<rect x="288.60" y="595" width="41.90" height="42" fill="#00785f" stroke="#000" stroke-width="2"/>
<rect x="330.50" y="595" width="41.90" height="42" fill="#00aa1e" stroke="#000" stroke-width="2"/>
<rect x="372.40" y="595" width="41.90" height="42" fill="#50c814" stroke="#000" stroke-width="2"/>
<rect x="414.30" y="595" width="41.90" height="42" fill="#aae100" stroke="#000" stroke-width="2"/>
<rect x="456.20" y="595" width="41.90" height="42" fill="#f0fa00" stroke="#000" stroke-width="2"/>
<rect x="498.10" y="595" width="41.90" height="42" fill="#ffb400" stroke="#000" stroke-width="2"/>
<rect x="540.00" y="595" width="41.90" height="42" fill="#ff5f00" stroke="#000" stroke-width="2"/>
<rect x="581.90" y="595" width="41.90" height="42" fill="#fb0800" stroke="#000" stroke-width="2"/>
<line x1="78.1" y1="637.6" x2="624.8" y2="637.6" stroke="#000" stroke-width="2.4"/>
<text transform="translate(114.60,667.00) scale(0.9500,1)" class="b" font-size="24.50">2</text>
<text transform="translate(191.59,667.00) scale(0.9500,1)" class="b" font-size="24.50">10</text>
<text transform="translate(275.80,667.00) scale(0.9500,1)" class="b" font-size="24.50">50</text>
<text transform="translate(353.08,667.00) scale(0.9500,1)" class="b" font-size="24.50">200</text>
<text transform="translate(437.11,667.00) scale(0.9500,1)" class="b" font-size="24.50">400</text>
<text transform="translate(520.68,667.00) scale(0.9500,1)" class="b" font-size="24.50">600</text>
<text transform="translate(69.31,21.90) scale(0.8563,1)" class="b" font-size="30.40">Extinction IFA (1/Mm)</text>
<text transform="translate(445.04,22.90) scale(0.9000,1)" class="b" font-size="30.60">2018-09-28_15</text>
<text transform="translate(548.23,47.40) scale(0.9831,1)" class="b" font-size="22.00">700 hPa</text>
<text transform="translate(28.44,139.00) scale(0.9400,1)" class="b" font-size="24.50">0</text>
<text transform="translate(2.38,299.00) scale(0.8919,1)" class="b" font-size="24.50">10S</text>
<text transform="translate(2.37,459.00) scale(0.8920,1)" class="b" font-size="24.50">20S</text>
<text transform="translate(48.33,578.90) scale(0.9110,1)" class="b" font-size="24.50">20W</text>
<text transform="translate(208.40,578.90) scale(0.9110,1)" class="b" font-size="24.50">10W</text>
<text transform="translate(385.25,578.90) scale(0.9200,1)" class="b" font-size="24.50">0</text>
<text transform="translate(530.78,578.90) scale(0.8920,1)" class="b" font-size="24.50">10E</text>
</svg>
</body></html>
